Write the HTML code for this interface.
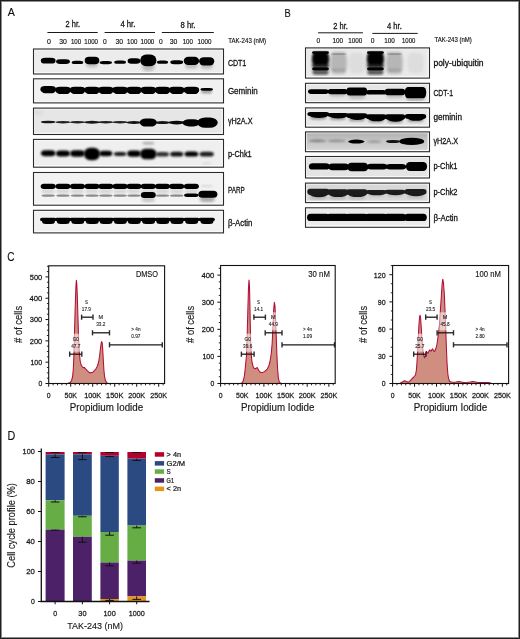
<!DOCTYPE html>
<html><head><meta charset="utf-8"><style>
html,body{margin:0;padding:0;background:#fff;}
body{width:520px;height:639px;overflow:hidden;}
svg{display:block;font-family:"Liberation Sans", sans-serif;will-change:transform;}
</style></head><body>
<svg width="520" height="639" viewBox="0 0 520 639">
<defs>
<clipPath id="c23"><rect x="34.00" y="49.50" width="189.00" height="24.00"/></clipPath>
<filter id="b0" x="-50%" y="-100%" width="200%" height="300%"><feGaussianBlur stdDeviation="0.65"/></filter>
<filter id="b1" x="-50%" y="-100%" width="200%" height="300%"><feGaussianBlur stdDeviation="1.6"/></filter>
<clipPath id="c47"><rect x="34.00" y="79.30" width="189.00" height="23.10"/></clipPath>
<filter id="b2" x="-50%" y="-100%" width="200%" height="300%"><feGaussianBlur stdDeviation="0.7"/></filter>
<filter id="b3" x="-50%" y="-100%" width="200%" height="300%"><feGaussianBlur stdDeviation="0.75"/></filter>
<filter id="b4" x="-50%" y="-100%" width="200%" height="300%"><feGaussianBlur stdDeviation="0.55"/></filter>
<filter id="b5" x="-50%" y="-100%" width="200%" height="300%"><feGaussianBlur stdDeviation="0.9"/></filter>
<clipPath id="c79"><rect x="34.00" y="108.60" width="189.00" height="25.40"/></clipPath>
<filter id="b6" x="-50%" y="-100%" width="200%" height="300%"><feGaussianBlur stdDeviation="2"/></filter>
<clipPath id="c100"><rect x="34.00" y="139.90" width="189.00" height="26.80"/></clipPath>
<filter id="b7" x="-50%" y="-100%" width="200%" height="300%"><feGaussianBlur stdDeviation="0.8"/></filter>
<filter id="b8" x="-50%" y="-100%" width="200%" height="300%"><feGaussianBlur stdDeviation="1.2"/></filter>
<clipPath id="c122"><rect x="34.00" y="173.00" width="189.00" height="31.70"/></clipPath>
<filter id="b9" x="-50%" y="-100%" width="200%" height="300%"><feGaussianBlur stdDeviation="0.6"/></filter>
<filter id="b10" x="-50%" y="-100%" width="200%" height="300%"><feGaussianBlur stdDeviation="1.4"/></filter>
<clipPath id="c167"><rect x="34.00" y="210.80" width="189.00" height="21.60"/></clipPath>
<clipPath id="c210"><rect x="306.00" y="48.40" width="123.00" height="29.20"/></clipPath>
<filter id="b11" x="-50%" y="-100%" width="200%" height="300%"><feGaussianBlur stdDeviation="0.5"/></filter>
<filter id="b12" x="-50%" y="-100%" width="200%" height="300%"><feGaussianBlur stdDeviation="1.5"/></filter>
<clipPath id="c238"><rect x="306.00" y="83.80" width="123.00" height="18.40"/></clipPath>
<clipPath id="c256"><rect x="306.00" y="108.40" width="123.00" height="18.30"/></clipPath>
<linearGradient id="ghb" x1="0" y1="0" x2="0" y2="1"><stop offset="0" stop-color="#b2b2b2"/><stop offset="0.45" stop-color="#c6c6c6"/><stop offset="1" stop-color="#d4d4d4"/></linearGradient>
<clipPath id="c282"><rect x="306.00" y="132.40" width="123.00" height="18.80"/></clipPath>
<clipPath id="c296"><rect x="306.00" y="157.00" width="123.00" height="20.50"/></clipPath>
<clipPath id="c310"><rect x="306.00" y="183.60" width="123.00" height="18.50"/></clipPath>
<clipPath id="c336"><rect x="306.00" y="208.30" width="123.00" height="18.50"/></clipPath>
</defs>
<rect x="0" y="0" width="520" height="639" fill="#fff"/>
<text x="7.70" y="16.30" font-size="11.4" fill="#111" textLength="7.10" lengthAdjust="spacingAndGlyphs" stroke="#111" stroke-width="0.14">A</text>
<text x="284.60" y="16.50" font-size="11.2" fill="#111" textLength="6.20" lengthAdjust="spacingAndGlyphs" stroke="#111" stroke-width="0.14">B</text>
<text x="65.60" y="27.00" font-size="8.8" fill="#111" textLength="14.40" lengthAdjust="spacingAndGlyphs" stroke="#111" stroke-width="0.26">2 hr.</text>
<text x="120.40" y="27.00" font-size="8.8" fill="#111" textLength="15.00" lengthAdjust="spacingAndGlyphs" stroke="#111" stroke-width="0.26">4 hr.</text>
<text x="180.60" y="28.30" font-size="8.6" fill="#111" textLength="14.90" lengthAdjust="spacingAndGlyphs" stroke="#111" stroke-width="0.26">8 hr.</text>
<line x1="47.40" y1="32.50" x2="97.70" y2="32.50" stroke="#1a1a1a" stroke-width="1.0"/>
<line x1="104.60" y1="32.50" x2="155.00" y2="32.50" stroke="#1a1a1a" stroke-width="1.0"/>
<line x1="161.90" y1="32.50" x2="213.80" y2="32.50" stroke="#1a1a1a" stroke-width="1.0"/>
<text x="46.90" y="43.80" font-size="7.2" fill="#111" textLength="3.90" lengthAdjust="spacingAndGlyphs" stroke="#111" stroke-width="0.16">0</text>
<text x="59.20" y="43.80" font-size="7.2" fill="#111" textLength="7.60" lengthAdjust="spacingAndGlyphs" stroke="#111" stroke-width="0.16">30</text>
<text x="70.90" y="43.80" font-size="7.2" fill="#111" textLength="10.20" lengthAdjust="spacingAndGlyphs" stroke="#111" stroke-width="0.16">100</text>
<text x="84.30" y="43.80" font-size="7.2" fill="#111" textLength="13.70" lengthAdjust="spacingAndGlyphs" stroke="#111" stroke-width="0.16">1000</text>
<text x="103.10" y="43.80" font-size="7.2" fill="#111" textLength="3.70" lengthAdjust="spacingAndGlyphs" stroke="#111" stroke-width="0.16">0</text>
<text x="115.50" y="43.80" font-size="7.2" fill="#111" textLength="7.60" lengthAdjust="spacingAndGlyphs" stroke="#111" stroke-width="0.16">30</text>
<text x="127.10" y="43.80" font-size="7.2" fill="#111" textLength="10.20" lengthAdjust="spacingAndGlyphs" stroke="#111" stroke-width="0.16">100</text>
<text x="140.50" y="43.80" font-size="7.2" fill="#111" textLength="13.80" lengthAdjust="spacingAndGlyphs" stroke="#111" stroke-width="0.16">1000</text>
<text x="159.00" y="43.80" font-size="7.2" fill="#111" textLength="3.70" lengthAdjust="spacingAndGlyphs" stroke="#111" stroke-width="0.16">0</text>
<text x="169.70" y="43.80" font-size="7.2" fill="#111" textLength="7.60" lengthAdjust="spacingAndGlyphs" stroke="#111" stroke-width="0.16">30</text>
<text x="182.70" y="43.80" font-size="7.2" fill="#111" textLength="10.30" lengthAdjust="spacingAndGlyphs" stroke="#111" stroke-width="0.16">100</text>
<text x="197.50" y="43.80" font-size="7.2" fill="#111" textLength="14.00" lengthAdjust="spacingAndGlyphs" stroke="#111" stroke-width="0.16">1000</text>
<text x="228.20" y="43.40" font-size="6.4" fill="#111" textLength="37.80" lengthAdjust="spacingAndGlyphs" stroke="#111" stroke-width="0.14">TAK-243 (nM)</text>
<rect x="33.50" y="49.00" width="190.00" height="25.00" fill="#fafafa"/>
<rect x="34.70" y="50.40" width="187.00" height="21.80" fill="#ececec"/>
<g clip-path="url(#c23)">
<rect x="40.80" y="57.85" width="14.80" height="5.70" rx="4.44" ry="2.85" fill="#000" opacity="1.00" filter="url(#b0)"/>
<rect x="56.00" y="59.15" width="14.00" height="4.90" rx="4.20" ry="2.45" fill="#000" opacity="1.00" filter="url(#b0)"/>
<rect x="71.70" y="60.75" width="11.60" height="3.30" rx="3.48" ry="1.65" fill="#000" opacity="1.00" filter="url(#b0)"/>
<rect x="86.14" y="60.76" width="11.73" height="6.48" rx="3.52" ry="3.24" fill="#000" opacity="0.20" filter="url(#b1)"/>
<rect x="84.70" y="56.65" width="14.60" height="7.50" rx="4.38" ry="3.75" fill="#000" opacity="1.00" filter="url(#b0)"/>
<rect x="99.65" y="61.05" width="12.30" height="3.10" rx="3.69" ry="1.55" fill="#000" opacity="1.00" filter="url(#b0)"/>
<rect x="114.20" y="60.55" width="11.80" height="3.30" rx="3.54" ry="1.65" fill="#000" opacity="1.00" filter="url(#b0)"/>
<rect x="127.60" y="58.35" width="12.80" height="5.30" rx="3.84" ry="2.65" fill="#000" opacity="1.00" filter="url(#b0)"/>
<rect x="141.76" y="60.98" width="13.09" height="10.35" rx="5.17" ry="5.17" fill="#000" opacity="0.20" filter="url(#b1)"/>
<rect x="140.20" y="54.50" width="16.20" height="11.80" rx="5.90" ry="5.90" fill="#000" opacity="1.00" filter="url(#b0)"/>
<rect x="156.90" y="60.55" width="11.20" height="3.30" rx="3.36" ry="1.65" fill="#000" opacity="1.00" filter="url(#b0)"/>
<rect x="170.30" y="60.25" width="12.80" height="3.90" rx="3.84" ry="1.95" fill="#000" opacity="1.00" filter="url(#b0)"/>
<rect x="185.19" y="61.30" width="12.41" height="7.20" rx="3.72" ry="3.60" fill="#000" opacity="0.20" filter="url(#b1)"/>
<rect x="183.70" y="56.75" width="15.40" height="8.30" rx="4.62" ry="4.15" fill="#000" opacity="1.00" filter="url(#b0)"/>
<rect x="200.58" y="61.70" width="12.24" height="7.20" rx="3.67" ry="3.60" fill="#000" opacity="0.20" filter="url(#b1)"/>
<rect x="199.10" y="57.15" width="15.20" height="8.30" rx="4.56" ry="4.15" fill="#000" opacity="1.00" filter="url(#b0)"/>
<rect x="33.50" y="72.20" width="190.00" height="1.80" fill="#fafafa" opacity="0.75"/>
<rect x="221.70" y="49.00" width="1.80" height="25.00" fill="#fafafa" opacity="0.6"/>
</g>
<rect x="33.50" y="49.00" width="190.00" height="25.00" fill="none" stroke="#2a2a2a" stroke-width="1.1"/>
<text x="227.90" y="65.80" font-size="8.2" fill="#111" textLength="18.40" lengthAdjust="spacingAndGlyphs" stroke="#111" stroke-width="0.26">CDT1</text>
<rect x="33.50" y="78.80" width="190.00" height="24.10" fill="#fafafa"/>
<rect x="34.70" y="80.20" width="187.00" height="20.90" fill="#f1f1f1"/>
<g clip-path="url(#c47)">
<rect x="40.40" y="86.00" width="15.60" height="6.40" rx="4.68" ry="3.20" fill="#000" opacity="1.00" filter="url(#b2)"/>
<rect x="42.10" y="88.70" width="12.80" height="4.60" rx="3.84" ry="2.30" fill="#000" opacity="1.00" filter="url(#b3)"/>
<rect x="55.20" y="86.80" width="15.60" height="6.40" rx="4.68" ry="3.20" fill="#000" opacity="1.00" filter="url(#b2)"/>
<rect x="56.90" y="89.50" width="12.80" height="4.60" rx="3.84" ry="2.30" fill="#000" opacity="1.00" filter="url(#b3)"/>
<rect x="69.70" y="86.80" width="15.60" height="6.40" rx="4.68" ry="3.20" fill="#000" opacity="1.00" filter="url(#b2)"/>
<rect x="71.40" y="89.50" width="12.80" height="4.60" rx="3.84" ry="2.30" fill="#000" opacity="1.00" filter="url(#b3)"/>
<rect x="84.20" y="86.80" width="15.60" height="6.40" rx="4.68" ry="3.20" fill="#000" opacity="1.00" filter="url(#b2)"/>
<rect x="85.90" y="89.50" width="12.80" height="4.60" rx="3.84" ry="2.30" fill="#000" opacity="1.00" filter="url(#b3)"/>
<rect x="98.00" y="86.80" width="15.60" height="6.40" rx="4.68" ry="3.20" fill="#000" opacity="1.00" filter="url(#b2)"/>
<rect x="99.70" y="89.50" width="12.80" height="4.60" rx="3.84" ry="2.30" fill="#000" opacity="1.00" filter="url(#b3)"/>
<rect x="112.30" y="86.80" width="15.60" height="6.40" rx="4.68" ry="3.20" fill="#000" opacity="1.00" filter="url(#b2)"/>
<rect x="114.00" y="89.50" width="12.80" height="4.60" rx="3.84" ry="2.30" fill="#000" opacity="1.00" filter="url(#b3)"/>
<rect x="126.20" y="86.80" width="15.60" height="6.40" rx="4.68" ry="3.20" fill="#000" opacity="1.00" filter="url(#b2)"/>
<rect x="127.90" y="89.50" width="12.80" height="4.60" rx="3.84" ry="2.30" fill="#000" opacity="1.00" filter="url(#b3)"/>
<rect x="140.50" y="86.80" width="15.60" height="6.40" rx="4.68" ry="3.20" fill="#000" opacity="1.00" filter="url(#b2)"/>
<rect x="142.20" y="89.50" width="12.80" height="4.60" rx="3.84" ry="2.30" fill="#000" opacity="1.00" filter="url(#b3)"/>
<rect x="154.70" y="86.80" width="15.60" height="6.40" rx="4.68" ry="3.20" fill="#000" opacity="1.00" filter="url(#b2)"/>
<rect x="156.40" y="89.50" width="12.80" height="4.60" rx="3.84" ry="2.30" fill="#000" opacity="1.00" filter="url(#b3)"/>
<rect x="168.90" y="86.80" width="15.60" height="6.40" rx="4.68" ry="3.20" fill="#000" opacity="1.00" filter="url(#b2)"/>
<rect x="170.60" y="89.50" width="12.80" height="4.60" rx="3.84" ry="2.30" fill="#000" opacity="1.00" filter="url(#b3)"/>
<rect x="183.60" y="86.80" width="15.60" height="6.40" rx="4.68" ry="3.20" fill="#000" opacity="1.00" filter="url(#b2)"/>
<rect x="185.30" y="89.50" width="12.80" height="4.60" rx="3.84" ry="2.30" fill="#000" opacity="1.00" filter="url(#b3)"/>
<rect x="200.45" y="88.00" width="12.50" height="2.80" rx="3.75" ry="1.40" fill="#000" opacity="1.00" filter="url(#b4)"/>
<rect x="201.20" y="90.00" width="11.00" height="3.60" rx="3.30" ry="1.80" fill="#000" opacity="0.35" filter="url(#b5)"/>
<rect x="33.50" y="101.10" width="190.00" height="1.80" fill="#fafafa" opacity="0.75"/>
<rect x="221.70" y="78.80" width="1.80" height="24.10" fill="#fafafa" opacity="0.6"/>
</g>
<rect x="33.50" y="78.80" width="190.00" height="24.10" fill="none" stroke="#2a2a2a" stroke-width="1.1"/>
<text x="227.90" y="94.00" font-size="8.2" fill="#111" textLength="29.80" lengthAdjust="spacingAndGlyphs" stroke="#111" stroke-width="0.26">Geminin</text>
<rect x="33.50" y="108.10" width="190.00" height="26.40" fill="#fafafa"/>
<rect x="34.70" y="109.50" width="187.00" height="23.20" fill="#e6e6e6"/>
<g clip-path="url(#c79)">
<rect x="33.00" y="109.50" width="10.00" height="5.00" rx="3.00" ry="2.50" fill="#000" opacity="0.05" filter="url(#b6)"/>
<ellipse cx="48.20" cy="122.00" rx="7.45" ry="1.35" fill="#000" opacity="0.90" filter="url(#b2)"/>
<ellipse cx="63.00" cy="122.20" rx="7.45" ry="1.25" fill="#000" opacity="0.85" filter="url(#b2)"/>
<ellipse cx="77.50" cy="122.20" rx="7.45" ry="1.25" fill="#000" opacity="0.85" filter="url(#b2)"/>
<ellipse cx="92.00" cy="122.20" rx="7.95" ry="1.45" fill="#000" opacity="0.90" filter="url(#b2)"/>
<ellipse cx="105.80" cy="122.20" rx="7.45" ry="1.30" fill="#000" opacity="0.85" filter="url(#b2)"/>
<ellipse cx="120.10" cy="122.20" rx="7.45" ry="1.30" fill="#000" opacity="0.85" filter="url(#b2)"/>
<ellipse cx="134.00" cy="122.50" rx="7.70" ry="1.50" fill="#000" opacity="0.92" filter="url(#b2)"/>
<rect x="139.80" y="118.40" width="17.00" height="8.20" rx="6.40" ry="4.10" fill="#000" opacity="1.00" filter="url(#b3)"/>
<ellipse cx="162.50" cy="122.60" rx="7.45" ry="1.50" fill="#000" opacity="0.90" filter="url(#b2)"/>
<ellipse cx="176.70" cy="122.60" rx="8.20" ry="1.80" fill="#000" opacity="0.95" filter="url(#b2)"/>
<rect x="182.65" y="119.20" width="17.50" height="7.20" rx="6.60" ry="3.60" fill="#000" opacity="1.00" filter="url(#b3)"/>
<rect x="197.25" y="117.40" width="20.50" height="10.40" rx="7.80" ry="5.20" fill="#000" opacity="1.00" filter="url(#b3)"/>
<rect x="33.50" y="132.70" width="190.00" height="1.80" fill="#fafafa" opacity="0.75"/>
<rect x="221.70" y="108.10" width="1.80" height="26.40" fill="#fafafa" opacity="0.6"/>
</g>
<rect x="33.50" y="108.10" width="190.00" height="26.40" fill="none" stroke="#2a2a2a" stroke-width="1.1"/>
<text x="227.90" y="123.70" font-size="8.2" fill="#111" textLength="24.60" lengthAdjust="spacingAndGlyphs" stroke="#111" stroke-width="0.26">γH2A.X</text>
<rect x="33.50" y="139.40" width="190.00" height="27.80" fill="#fafafa"/>
<rect x="34.70" y="140.80" width="187.00" height="24.60" fill="#efefef"/>
<g clip-path="url(#c100)">
<rect x="40.95" y="150.30" width="14.50" height="6.00" rx="4.35" ry="3.00" fill="#000" opacity="1.00" filter="url(#b7)"/>
<rect x="56.00" y="150.60" width="14.00" height="5.80" rx="4.20" ry="2.90" fill="#000" opacity="1.00" filter="url(#b7)"/>
<rect x="70.25" y="150.20" width="14.50" height="6.60" rx="4.35" ry="3.30" fill="#000" opacity="1.00" filter="url(#b7)"/>
<rect x="84.00" y="147.75" width="16.00" height="12.50" rx="6.25" ry="6.25" fill="#000" opacity="1.00" filter="url(#b7)"/>
<rect x="99.30" y="150.70" width="13.00" height="5.60" rx="3.90" ry="2.80" fill="#000" opacity="1.00" filter="url(#b7)"/>
<rect x="113.85" y="152.10" width="12.50" height="3.80" rx="3.75" ry="1.90" fill="#000" opacity="0.90" filter="url(#b7)"/>
<rect x="127.25" y="150.40" width="13.50" height="6.40" rx="4.05" ry="3.20" fill="#000" opacity="1.00" filter="url(#b7)"/>
<rect x="140.05" y="148.70" width="16.50" height="10.60" rx="5.30" ry="5.30" fill="#000" opacity="1.00" filter="url(#b7)"/>
<rect x="156.00" y="151.90" width="13.00" height="4.60" rx="3.90" ry="2.30" fill="#000" opacity="0.80" filter="url(#b7)"/>
<rect x="170.20" y="151.80" width="13.00" height="4.80" rx="3.90" ry="2.40" fill="#000" opacity="0.92" filter="url(#b7)"/>
<rect x="184.50" y="151.40" width="13.80" height="5.20" rx="4.14" ry="2.60" fill="#000" opacity="1.00" filter="url(#b7)"/>
<rect x="199.60" y="151.80" width="14.20" height="4.80" rx="4.26" ry="2.40" fill="#000" opacity="0.88" filter="url(#b7)"/>
<rect x="142.30" y="142.00" width="12.00" height="2.40" rx="3.60" ry="1.20" fill="#000" opacity="0.28" filter="url(#b7)"/>
<rect x="201.70" y="162.00" width="10.00" height="3.00" rx="3.00" ry="1.50" fill="#000" opacity="0.06" filter="url(#b8)"/>
<rect x="33.50" y="165.40" width="190.00" height="1.80" fill="#fafafa" opacity="0.75"/>
<rect x="221.70" y="139.40" width="1.80" height="27.80" fill="#fafafa" opacity="0.6"/>
</g>
<rect x="33.50" y="139.40" width="190.00" height="27.80" fill="none" stroke="#2a2a2a" stroke-width="1.1"/>
<text x="227.90" y="156.90" font-size="8.2" fill="#111" textLength="23.80" lengthAdjust="spacingAndGlyphs" stroke="#111" stroke-width="0.26">p-Chk1</text>
<rect x="33.50" y="172.50" width="190.00" height="32.70" fill="#fafafa"/>
<rect x="34.70" y="173.90" width="187.00" height="29.50" fill="#f2f2f2"/>
<g clip-path="url(#c122)">
<rect x="40.70" y="183.70" width="15.00" height="5.20" rx="3.20" ry="2.60" fill="#000" opacity="1.00" filter="url(#b9)"/>
<rect x="41.70" y="188.70" width="13.00" height="5.00" rx="3.90" ry="2.50" fill="#000" opacity="0.10" filter="url(#b8)"/>
<rect x="41.45" y="194.40" width="13.50" height="2.40" rx="4.05" ry="1.20" fill="#000" opacity="0.42" filter="url(#b2)"/>
<rect x="55.50" y="183.70" width="15.00" height="5.20" rx="3.20" ry="2.60" fill="#000" opacity="1.00" filter="url(#b9)"/>
<rect x="56.50" y="188.70" width="13.00" height="5.00" rx="3.90" ry="2.50" fill="#000" opacity="0.10" filter="url(#b8)"/>
<rect x="56.25" y="194.40" width="13.50" height="2.40" rx="4.05" ry="1.20" fill="#000" opacity="0.42" filter="url(#b2)"/>
<rect x="70.00" y="183.70" width="15.00" height="5.20" rx="3.20" ry="2.60" fill="#000" opacity="1.00" filter="url(#b9)"/>
<rect x="71.00" y="188.70" width="13.00" height="5.00" rx="3.90" ry="2.50" fill="#000" opacity="0.10" filter="url(#b8)"/>
<rect x="70.75" y="194.40" width="13.50" height="2.40" rx="4.05" ry="1.20" fill="#000" opacity="0.42" filter="url(#b2)"/>
<rect x="84.50" y="183.70" width="15.00" height="5.20" rx="3.20" ry="2.60" fill="#000" opacity="1.00" filter="url(#b9)"/>
<rect x="85.50" y="188.70" width="13.00" height="5.00" rx="3.90" ry="2.50" fill="#000" opacity="0.10" filter="url(#b8)"/>
<rect x="85.25" y="194.40" width="13.50" height="2.40" rx="4.05" ry="1.20" fill="#000" opacity="0.42" filter="url(#b2)"/>
<rect x="98.30" y="183.70" width="15.00" height="5.20" rx="3.20" ry="2.60" fill="#000" opacity="1.00" filter="url(#b9)"/>
<rect x="99.30" y="188.70" width="13.00" height="5.00" rx="3.90" ry="2.50" fill="#000" opacity="0.10" filter="url(#b8)"/>
<rect x="99.05" y="194.40" width="13.50" height="2.40" rx="4.05" ry="1.20" fill="#000" opacity="0.42" filter="url(#b2)"/>
<rect x="112.60" y="183.70" width="15.00" height="5.20" rx="3.20" ry="2.60" fill="#000" opacity="1.00" filter="url(#b9)"/>
<rect x="113.60" y="188.70" width="13.00" height="5.00" rx="3.90" ry="2.50" fill="#000" opacity="0.10" filter="url(#b8)"/>
<rect x="113.35" y="194.40" width="13.50" height="2.40" rx="4.05" ry="1.20" fill="#000" opacity="0.42" filter="url(#b2)"/>
<rect x="126.50" y="183.70" width="15.00" height="5.20" rx="3.20" ry="2.60" fill="#000" opacity="1.00" filter="url(#b9)"/>
<rect x="127.50" y="188.70" width="13.00" height="5.00" rx="3.90" ry="2.50" fill="#000" opacity="0.10" filter="url(#b8)"/>
<rect x="127.25" y="194.40" width="13.50" height="2.40" rx="4.05" ry="1.20" fill="#000" opacity="0.42" filter="url(#b2)"/>
<rect x="140.80" y="183.70" width="15.00" height="5.20" rx="3.20" ry="2.60" fill="#000" opacity="1.00" filter="url(#b9)"/>
<rect x="141.80" y="188.70" width="13.00" height="5.00" rx="3.90" ry="2.50" fill="#000" opacity="0.10" filter="url(#b8)"/>
<rect x="140.80" y="192.00" width="15.00" height="6.00" rx="3.50" ry="3.00" fill="#000" opacity="1.00" filter="url(#b9)"/>
<rect x="141.80" y="197.00" width="13.00" height="5.00" rx="3.90" ry="2.50" fill="#000" opacity="0.18" filter="url(#b10)"/>
<rect x="155.00" y="183.70" width="15.00" height="5.20" rx="3.20" ry="2.60" fill="#000" opacity="1.00" filter="url(#b9)"/>
<rect x="156.00" y="188.70" width="13.00" height="5.00" rx="3.90" ry="2.50" fill="#000" opacity="0.10" filter="url(#b8)"/>
<rect x="155.75" y="194.40" width="13.50" height="2.40" rx="4.05" ry="1.20" fill="#000" opacity="0.42" filter="url(#b2)"/>
<rect x="169.20" y="183.70" width="15.00" height="5.20" rx="3.20" ry="2.60" fill="#000" opacity="1.00" filter="url(#b9)"/>
<rect x="170.20" y="188.70" width="13.00" height="5.00" rx="3.90" ry="2.50" fill="#000" opacity="0.10" filter="url(#b8)"/>
<rect x="169.95" y="194.40" width="13.50" height="2.40" rx="4.05" ry="1.20" fill="#000" opacity="0.42" filter="url(#b2)"/>
<rect x="183.90" y="183.70" width="15.00" height="5.20" rx="3.20" ry="2.60" fill="#000" opacity="1.00" filter="url(#b9)"/>
<rect x="184.90" y="188.70" width="13.00" height="5.00" rx="3.90" ry="2.50" fill="#000" opacity="0.10" filter="url(#b8)"/>
<rect x="184.15" y="193.50" width="14.50" height="3.40" rx="3.00" ry="1.70" fill="#000" opacity="1.00" filter="url(#b4)"/>
<rect x="200.70" y="185.00" width="12.00" height="2.00" rx="3.60" ry="1.00" fill="#000" opacity="0.10" filter="url(#b7)"/>
<rect x="198.40" y="190.70" width="19.00" height="7.00" rx="4.00" ry="3.50" fill="#000" opacity="1.00" filter="url(#b9)"/>
<rect x="199.70" y="196.00" width="15.00" height="6.00" rx="4.50" ry="3.00" fill="#000" opacity="0.30" filter="url(#b10)"/>
<rect x="33.50" y="203.40" width="190.00" height="1.80" fill="#fafafa" opacity="0.75"/>
<rect x="221.70" y="172.50" width="1.80" height="32.70" fill="#fafafa" opacity="0.6"/>
</g>
<rect x="33.50" y="172.50" width="190.00" height="32.70" fill="none" stroke="#2a2a2a" stroke-width="1.1"/>
<text x="227.90" y="192.90" font-size="8.2" fill="#111" textLength="16.80" lengthAdjust="spacingAndGlyphs" stroke="#111" stroke-width="0.26">PARP</text>
<rect x="33.50" y="210.30" width="190.00" height="22.60" fill="#fafafa"/>
<rect x="34.70" y="211.70" width="187.00" height="19.40" fill="#f1f1f1"/>
<g clip-path="url(#c167)">
<rect x="40.00" y="217.70" width="16.40" height="3.60" rx="2.00" ry="1.80" fill="#000" opacity="1.00" filter="url(#b9)"/>
<rect x="42.10" y="218.90" width="12.80" height="5.00" rx="3.84" ry="2.50" fill="#000" opacity="1.00" filter="url(#b2)"/>
<rect x="54.80" y="217.70" width="16.40" height="3.60" rx="2.00" ry="1.80" fill="#000" opacity="1.00" filter="url(#b9)"/>
<rect x="56.90" y="218.90" width="12.80" height="5.00" rx="3.84" ry="2.50" fill="#000" opacity="1.00" filter="url(#b2)"/>
<rect x="69.30" y="217.70" width="16.40" height="3.60" rx="2.00" ry="1.80" fill="#000" opacity="1.00" filter="url(#b9)"/>
<rect x="71.40" y="218.90" width="12.80" height="5.00" rx="3.84" ry="2.50" fill="#000" opacity="1.00" filter="url(#b2)"/>
<rect x="83.80" y="217.70" width="16.40" height="3.60" rx="2.00" ry="1.80" fill="#000" opacity="1.00" filter="url(#b9)"/>
<rect x="85.90" y="218.90" width="12.80" height="5.00" rx="3.84" ry="2.50" fill="#000" opacity="1.00" filter="url(#b2)"/>
<rect x="97.60" y="217.70" width="16.40" height="3.60" rx="2.00" ry="1.80" fill="#000" opacity="1.00" filter="url(#b9)"/>
<rect x="99.70" y="218.90" width="12.80" height="5.00" rx="3.84" ry="2.50" fill="#000" opacity="1.00" filter="url(#b2)"/>
<rect x="111.90" y="217.70" width="16.40" height="3.60" rx="2.00" ry="1.80" fill="#000" opacity="1.00" filter="url(#b9)"/>
<rect x="114.00" y="218.90" width="12.80" height="5.00" rx="3.84" ry="2.50" fill="#000" opacity="1.00" filter="url(#b2)"/>
<rect x="125.80" y="217.70" width="16.40" height="3.60" rx="2.00" ry="1.80" fill="#000" opacity="1.00" filter="url(#b9)"/>
<rect x="127.90" y="218.90" width="12.80" height="5.00" rx="3.84" ry="2.50" fill="#000" opacity="1.00" filter="url(#b2)"/>
<rect x="140.10" y="217.70" width="16.40" height="3.60" rx="2.00" ry="1.80" fill="#000" opacity="1.00" filter="url(#b9)"/>
<rect x="142.20" y="218.90" width="12.80" height="5.00" rx="3.84" ry="2.50" fill="#000" opacity="1.00" filter="url(#b2)"/>
<rect x="154.30" y="217.70" width="16.40" height="3.60" rx="2.00" ry="1.80" fill="#000" opacity="1.00" filter="url(#b9)"/>
<rect x="156.40" y="218.90" width="12.80" height="5.00" rx="3.84" ry="2.50" fill="#000" opacity="1.00" filter="url(#b2)"/>
<rect x="168.50" y="217.70" width="16.40" height="3.60" rx="2.00" ry="1.80" fill="#000" opacity="1.00" filter="url(#b9)"/>
<rect x="170.60" y="218.90" width="12.80" height="5.00" rx="3.84" ry="2.50" fill="#000" opacity="1.00" filter="url(#b2)"/>
<rect x="183.20" y="217.70" width="16.40" height="3.60" rx="2.00" ry="1.80" fill="#000" opacity="1.00" filter="url(#b9)"/>
<rect x="185.30" y="218.90" width="12.80" height="5.00" rx="3.84" ry="2.50" fill="#000" opacity="1.00" filter="url(#b2)"/>
<rect x="198.50" y="217.70" width="16.40" height="3.60" rx="2.00" ry="1.80" fill="#000" opacity="1.00" filter="url(#b9)"/>
<rect x="200.60" y="218.90" width="12.80" height="5.00" rx="3.84" ry="2.50" fill="#000" opacity="1.00" filter="url(#b2)"/>
<rect x="33.50" y="231.10" width="190.00" height="1.80" fill="#fafafa" opacity="0.75"/>
<rect x="221.70" y="210.30" width="1.80" height="22.60" fill="#fafafa" opacity="0.6"/>
</g>
<rect x="33.50" y="210.30" width="190.00" height="22.60" fill="none" stroke="#2a2a2a" stroke-width="1.1"/>
<text x="227.90" y="225.50" font-size="8.2" fill="#111" textLength="24.60" lengthAdjust="spacingAndGlyphs" stroke="#111" stroke-width="0.26">β-Actin</text>
<text x="333.30" y="29.00" font-size="8.8" fill="#111" textLength="14.60" lengthAdjust="spacingAndGlyphs" stroke="#111" stroke-width="0.26">2 hr.</text>
<text x="387.00" y="29.30" font-size="8.8" fill="#111" textLength="14.80" lengthAdjust="spacingAndGlyphs" stroke="#111" stroke-width="0.26">4 hr.</text>
<line x1="318.00" y1="32.80" x2="363.00" y2="32.80" stroke="#1a1a1a" stroke-width="1.0"/>
<line x1="372.30" y1="33.40" x2="417.70" y2="33.40" stroke="#1a1a1a" stroke-width="1.0"/>
<text x="316.60" y="42.80" font-size="7.2" fill="#111" textLength="3.70" lengthAdjust="spacingAndGlyphs" stroke="#111" stroke-width="0.16">0</text>
<text x="332.50" y="42.80" font-size="7.2" fill="#111" textLength="10.60" lengthAdjust="spacingAndGlyphs" stroke="#111" stroke-width="0.16">100</text>
<text x="348.30" y="42.80" font-size="7.2" fill="#111" textLength="14.00" lengthAdjust="spacingAndGlyphs" stroke="#111" stroke-width="0.16">1000</text>
<text x="370.70" y="42.80" font-size="7.2" fill="#111" textLength="3.70" lengthAdjust="spacingAndGlyphs" stroke="#111" stroke-width="0.16">0</text>
<text x="384.30" y="42.80" font-size="7.2" fill="#111" textLength="10.60" lengthAdjust="spacingAndGlyphs" stroke="#111" stroke-width="0.16">100</text>
<text x="402.00" y="42.80" font-size="7.2" fill="#111" textLength="13.30" lengthAdjust="spacingAndGlyphs" stroke="#111" stroke-width="0.16">1000</text>
<text x="434.50" y="42.40" font-size="6.4" fill="#111" textLength="37.30" lengthAdjust="spacingAndGlyphs" stroke="#111" stroke-width="0.14">TAK-243 (nM)</text>
<rect x="305.50" y="47.90" width="124.00" height="30.20" fill="#fafafa"/>
<rect x="306.70" y="49.30" width="121.00" height="27.00" fill="#e9e9e9"/>
<g clip-path="url(#c210)">
<rect x="311.75" y="53.50" width="17.50" height="21.00" rx="3.00" ry="10.50" fill="#000" opacity="0.35" filter="url(#b1)"/>
<rect x="312.20" y="52.30" width="16.60" height="12.60" rx="2.50" ry="6.30" fill="#000" opacity="1.00" filter="url(#b7)"/>
<rect x="312.50" y="63.85" width="16.00" height="3.50" rx="2.00" ry="1.75" fill="#000" opacity="0.80" filter="url(#b7)"/>
<rect x="312.10" y="51.30" width="16.80" height="2.60" rx="1.50" ry="1.30" fill="#000" opacity="1.00" filter="url(#b11)"/>
<rect x="312.10" y="67.20" width="16.80" height="3.20" rx="2.00" ry="1.60" fill="#000" opacity="1.00" filter="url(#b4)"/>
<rect x="312.50" y="70.60" width="16.00" height="4.00" rx="2.00" ry="2.00" fill="#000" opacity="0.45" filter="url(#b5)"/>
<rect x="366.65" y="53.50" width="17.50" height="21.00" rx="3.00" ry="10.50" fill="#000" opacity="0.35" filter="url(#b1)"/>
<rect x="367.10" y="52.30" width="16.60" height="12.60" rx="2.50" ry="6.30" fill="#000" opacity="1.00" filter="url(#b7)"/>
<rect x="367.40" y="63.85" width="16.00" height="3.50" rx="2.00" ry="1.75" fill="#000" opacity="0.80" filter="url(#b7)"/>
<rect x="367.00" y="51.30" width="16.80" height="2.60" rx="1.50" ry="1.30" fill="#000" opacity="1.00" filter="url(#b11)"/>
<rect x="367.00" y="67.20" width="16.80" height="3.20" rx="2.00" ry="1.60" fill="#000" opacity="1.00" filter="url(#b4)"/>
<rect x="367.40" y="70.60" width="16.00" height="4.00" rx="2.00" ry="2.00" fill="#000" opacity="0.45" filter="url(#b5)"/>
<rect x="330.45" y="52.00" width="16.50" height="22.00" rx="3.00" ry="11.00" fill="#000" opacity="0.22" filter="url(#b12)"/>
<rect x="330.95" y="53.00" width="15.50" height="2.00" rx="4.65" ry="1.00" fill="#000" opacity="0.18" filter="url(#b2)"/>
<rect x="330.95" y="68.75" width="15.50" height="2.50" rx="4.65" ry="1.25" fill="#000" opacity="0.12" filter="url(#b7)"/>
<rect x="386.25" y="52.00" width="16.50" height="22.00" rx="3.00" ry="11.00" fill="#000" opacity="0.22" filter="url(#b12)"/>
<rect x="386.75" y="53.00" width="15.50" height="2.00" rx="4.65" ry="1.00" fill="#000" opacity="0.18" filter="url(#b2)"/>
<rect x="386.75" y="68.75" width="15.50" height="2.50" rx="4.65" ry="1.25" fill="#000" opacity="0.12" filter="url(#b7)"/>
<rect x="348.80" y="53.00" width="16.00" height="20.00" rx="3.00" ry="10.00" fill="#000" opacity="0.05" filter="url(#b12)"/>
<rect x="407.50" y="53.00" width="16.00" height="20.00" rx="3.00" ry="10.00" fill="#000" opacity="0.05" filter="url(#b12)"/>
<rect x="305.50" y="76.30" width="124.00" height="1.80" fill="#fafafa" opacity="0.75"/>
<rect x="427.70" y="47.90" width="1.80" height="30.20" fill="#fafafa" opacity="0.6"/>
</g>
<rect x="305.50" y="47.90" width="124.00" height="30.20" fill="none" stroke="#2a2a2a" stroke-width="1.1"/>
<text x="433.40" y="65.80" font-size="8.2" fill="#111" textLength="50.20" lengthAdjust="spacingAndGlyphs" stroke="#111" stroke-width="0.26">poly-ubiquitin</text>
<rect x="305.50" y="83.30" width="124.00" height="19.40" fill="#fafafa"/>
<rect x="306.70" y="84.70" width="121.00" height="16.20" fill="#e6e6e6"/>
<g clip-path="url(#c238)">
<rect x="308.05" y="89.20" width="20.50" height="4.80" rx="3.00" ry="2.40" fill="#000" opacity="1.00" filter="url(#b3)"/>
<rect x="329.20" y="92.14" width="17.00" height="4.32" rx="5.10" ry="2.16" fill="#000" opacity="0.20" filter="url(#b10)"/>
<rect x="327.70" y="88.90" width="20.00" height="5.40" rx="3.00" ry="2.70" fill="#000" opacity="1.00" filter="url(#b3)"/>
<rect x="347.96" y="92.30" width="17.68" height="6.40" rx="5.30" ry="3.20" fill="#000" opacity="0.20" filter="url(#b10)"/>
<rect x="346.40" y="87.50" width="20.80" height="8.00" rx="3.00" ry="4.00" fill="#000" opacity="1.00" filter="url(#b3)"/>
<rect x="366.20" y="89.90" width="20.00" height="4.60" rx="3.00" ry="2.30" fill="#000" opacity="1.00" filter="url(#b3)"/>
<rect x="386.33" y="92.64" width="17.34" height="5.12" rx="5.20" ry="2.56" fill="#000" opacity="0.20" filter="url(#b10)"/>
<rect x="384.80" y="88.80" width="20.40" height="6.40" rx="3.00" ry="3.20" fill="#000" opacity="1.00" filter="url(#b3)"/>
<rect x="406.36" y="93.74" width="18.27" height="9.12" rx="5.48" ry="4.56" fill="#000" opacity="0.20" filter="url(#b10)"/>
<rect x="404.75" y="86.90" width="21.50" height="11.40" rx="3.00" ry="5.70" fill="#000" opacity="1.00" filter="url(#b3)"/>
<rect x="305.50" y="100.90" width="124.00" height="1.80" fill="#fafafa" opacity="0.75"/>
<rect x="427.70" y="83.30" width="1.80" height="19.40" fill="#fafafa" opacity="0.6"/>
</g>
<rect x="305.50" y="83.30" width="124.00" height="19.40" fill="none" stroke="#2a2a2a" stroke-width="1.1"/>
<text x="433.40" y="96.30" font-size="8.2" fill="#111" textLength="19.60" lengthAdjust="spacingAndGlyphs" stroke="#111" stroke-width="0.26">CDT-1</text>
<rect x="305.50" y="107.90" width="124.00" height="19.30" fill="#fafafa"/>
<rect x="306.70" y="109.30" width="121.00" height="16.10" fill="#e8e8e8"/>
<g clip-path="url(#c256)">
<rect x="307.40" y="111.90" width="21.80" height="4.32" rx="3.00" ry="2.16" fill="#000" opacity="1.00" filter="url(#b0)"/>
<ellipse cx="318.80" cy="115.41" rx="8.82" ry="2.70" fill="#000" opacity="1.00" filter="url(#b2)"/>
<rect x="309.90" y="115.44" width="16.80" height="4.32" rx="5.04" ry="2.16" fill="#000" opacity="0.30" filter="url(#b8)"/>
<rect x="327.05" y="112.90" width="21.30" height="3.84" rx="3.00" ry="1.92" fill="#000" opacity="1.00" filter="url(#b0)"/>
<ellipse cx="338.20" cy="116.02" rx="8.61" ry="2.40" fill="#000" opacity="1.00" filter="url(#b2)"/>
<rect x="329.50" y="116.38" width="16.40" height="3.84" rx="4.92" ry="1.92" fill="#000" opacity="0.30" filter="url(#b8)"/>
<rect x="346.15" y="113.30" width="21.30" height="4.64" rx="3.00" ry="2.32" fill="#000" opacity="1.00" filter="url(#b0)"/>
<ellipse cx="357.30" cy="117.07" rx="8.61" ry="2.90" fill="#000" opacity="1.00" filter="url(#b2)"/>
<rect x="348.60" y="116.88" width="16.40" height="4.64" rx="4.92" ry="2.32" fill="#000" opacity="0.30" filter="url(#b8)"/>
<rect x="365.80" y="114.20" width="20.80" height="4.96" rx="3.00" ry="2.48" fill="#000" opacity="1.00" filter="url(#b0)"/>
<ellipse cx="376.70" cy="118.23" rx="8.40" ry="3.10" fill="#000" opacity="1.00" filter="url(#b2)"/>
<rect x="368.20" y="117.82" width="16.00" height="4.96" rx="4.80" ry="2.48" fill="#000" opacity="0.30" filter="url(#b8)"/>
<rect x="384.60" y="114.20" width="20.80" height="5.28" rx="3.00" ry="2.64" fill="#000" opacity="1.00" filter="url(#b0)"/>
<ellipse cx="395.50" cy="118.49" rx="8.40" ry="3.30" fill="#000" opacity="1.00" filter="url(#b2)"/>
<rect x="387.00" y="117.86" width="16.00" height="5.28" rx="4.80" ry="2.64" fill="#000" opacity="0.30" filter="url(#b8)"/>
<rect x="404.85" y="114.10" width="21.30" height="4.64" rx="3.00" ry="2.32" fill="#000" opacity="1.00" filter="url(#b0)"/>
<ellipse cx="416.00" cy="117.87" rx="8.61" ry="2.90" fill="#000" opacity="1.00" filter="url(#b2)"/>
<rect x="407.30" y="117.68" width="16.40" height="4.64" rx="4.92" ry="2.32" fill="#000" opacity="0.30" filter="url(#b8)"/>
<rect x="305.50" y="125.40" width="124.00" height="1.80" fill="#fafafa" opacity="0.75"/>
<rect x="427.70" y="107.90" width="1.80" height="19.30" fill="#fafafa" opacity="0.6"/>
</g>
<rect x="305.50" y="107.90" width="124.00" height="19.30" fill="none" stroke="#2a2a2a" stroke-width="1.1"/>
<text x="433.40" y="119.80" font-size="8.2" fill="#111" textLength="28.60" lengthAdjust="spacingAndGlyphs" stroke="#111" stroke-width="0.26">geminin</text>
<rect x="305.50" y="131.90" width="124.00" height="19.80" fill="#fafafa"/>
<rect x="306.70" y="133.30" width="121.00" height="16.60" fill="url(#ghb)"/>
<g clip-path="url(#c282)">
<ellipse cx="317.30" cy="140.90" rx="9.00" ry="1.30" fill="#000" opacity="0.35" filter="url(#b7)"/>
<ellipse cx="336.70" cy="140.90" rx="9.00" ry="1.20" fill="#000" opacity="0.30" filter="url(#b7)"/>
<ellipse cx="356.30" cy="141.60" rx="8.20" ry="2.00" fill="#000" opacity="1.00" filter="url(#b4)"/>
<ellipse cx="374.20" cy="141.60" rx="7.00" ry="1.10" fill="#000" opacity="0.25" filter="url(#b7)"/>
<ellipse cx="393.00" cy="141.50" rx="7.00" ry="1.60" fill="#000" opacity="0.90" filter="url(#b9)"/>
<ellipse cx="411.70" cy="141.40" rx="12.50" ry="3.60" fill="#000" opacity="1.00" filter="url(#b9)"/>
<rect x="305.50" y="149.90" width="124.00" height="1.80" fill="#fafafa" opacity="0.75"/>
<rect x="427.70" y="131.90" width="1.80" height="19.80" fill="#fafafa" opacity="0.6"/>
</g>
<rect x="305.50" y="131.90" width="124.00" height="19.80" fill="none" stroke="#2a2a2a" stroke-width="1.1"/>
<text x="433.40" y="144.10" font-size="8.2" fill="#111" textLength="24.60" lengthAdjust="spacingAndGlyphs" stroke="#111" stroke-width="0.26">γH2A.X</text>
<rect x="305.50" y="156.50" width="124.00" height="21.50" fill="#fafafa"/>
<rect x="306.70" y="157.90" width="121.00" height="18.30" fill="#e4e4e4"/>
<g clip-path="url(#c296)">
<rect x="308.90" y="163.20" width="20.80" height="6.40" rx="4.00" ry="3.20" fill="#000" opacity="1.00" filter="url(#b2)"/>
<rect x="328.45" y="163.40" width="20.50" height="6.80" rx="4.00" ry="3.40" fill="#000" opacity="1.00" filter="url(#b2)"/>
<rect x="347.30" y="162.70" width="21.00" height="8.60" rx="4.00" ry="4.30" fill="#000" opacity="1.00" filter="url(#b2)"/>
<rect x="366.95" y="163.70" width="20.50" height="5.80" rx="4.00" ry="2.90" fill="#000" opacity="1.00" filter="url(#b2)"/>
<rect x="385.90" y="164.00" width="20.20" height="5.40" rx="4.00" ry="2.70" fill="#000" opacity="1.00" filter="url(#b2)"/>
<rect x="405.90" y="162.00" width="21.20" height="9.00" rx="4.00" ry="4.50" fill="#000" opacity="1.00" filter="url(#b2)"/>
<rect x="305.50" y="176.20" width="124.00" height="1.80" fill="#fafafa" opacity="0.75"/>
<rect x="427.70" y="156.50" width="1.80" height="21.50" fill="#fafafa" opacity="0.6"/>
</g>
<rect x="305.50" y="156.50" width="124.00" height="21.50" fill="none" stroke="#2a2a2a" stroke-width="1.1"/>
<text x="433.40" y="169.10" font-size="8.2" fill="#111" textLength="24.00" lengthAdjust="spacingAndGlyphs" stroke="#111" stroke-width="0.26">p-Chk1</text>
<rect x="305.50" y="183.10" width="124.00" height="19.50" fill="#fafafa"/>
<rect x="306.70" y="184.50" width="121.00" height="16.30" fill="#d8d8d8"/>
<g clip-path="url(#c310)">
<rect x="307.25" y="188.70" width="22.10" height="6.23" rx="3.00" ry="3.12" fill="#1e1e1e" opacity="1.00" filter="url(#b9)"/>
<ellipse cx="318.80" cy="193.78" rx="9.46" ry="3.44" fill="#1e1e1e" opacity="1.00" filter="url(#b2)"/>
<rect x="309.70" y="194.85" width="17.20" height="4.92" rx="5.16" ry="2.46" fill="#000" opacity="0.12" filter="url(#b8)"/>
<rect x="326.90" y="189.20" width="21.60" height="5.78" rx="3.00" ry="2.89" fill="#1e1e1e" opacity="1.00" filter="url(#b9)"/>
<ellipse cx="338.20" cy="193.91" rx="9.24" ry="3.19" fill="#1e1e1e" opacity="1.00" filter="url(#b2)"/>
<rect x="329.30" y="194.90" width="16.80" height="4.56" rx="5.04" ry="2.28" fill="#000" opacity="0.12" filter="url(#b8)"/>
<rect x="346.00" y="189.20" width="21.60" height="5.78" rx="3.00" ry="2.89" fill="#1e1e1e" opacity="1.00" filter="url(#b9)"/>
<ellipse cx="357.30" cy="193.91" rx="9.24" ry="3.19" fill="#1e1e1e" opacity="1.00" filter="url(#b2)"/>
<rect x="348.40" y="194.90" width="16.80" height="4.56" rx="5.04" ry="2.28" fill="#000" opacity="0.12" filter="url(#b8)"/>
<rect x="365.65" y="190.10" width="21.10" height="3.80" rx="3.00" ry="1.90" fill="#1e1e1e" opacity="1.00" filter="url(#b9)"/>
<ellipse cx="376.70" cy="193.20" rx="9.02" ry="2.10" fill="#1e1e1e" opacity="1.00" filter="url(#b2)"/>
<rect x="368.00" y="193.85" width="16.40" height="3.00" rx="4.92" ry="1.50" fill="#000" opacity="0.12" filter="url(#b8)"/>
<rect x="384.45" y="189.80" width="21.10" height="3.95" rx="3.00" ry="1.98" fill="#1e1e1e" opacity="1.00" filter="url(#b9)"/>
<ellipse cx="395.50" cy="193.02" rx="9.02" ry="2.18" fill="#1e1e1e" opacity="1.00" filter="url(#b2)"/>
<rect x="386.80" y="193.70" width="16.40" height="3.12" rx="4.92" ry="1.56" fill="#000" opacity="0.12" filter="url(#b8)"/>
<rect x="404.45" y="189.10" width="22.10" height="5.17" rx="3.00" ry="2.58" fill="#1e1e1e" opacity="1.00" filter="url(#b9)"/>
<ellipse cx="416.00" cy="193.32" rx="9.46" ry="2.86" fill="#1e1e1e" opacity="1.00" filter="url(#b2)"/>
<rect x="406.90" y="194.20" width="17.20" height="4.08" rx="5.16" ry="2.04" fill="#000" opacity="0.12" filter="url(#b8)"/>
<rect x="305.50" y="200.80" width="124.00" height="1.80" fill="#fafafa" opacity="0.75"/>
<rect x="427.70" y="183.10" width="1.80" height="19.50" fill="#fafafa" opacity="0.6"/>
</g>
<rect x="305.50" y="183.10" width="124.00" height="19.50" fill="none" stroke="#2a2a2a" stroke-width="1.1"/>
<text x="433.40" y="195.00" font-size="8.2" fill="#111" textLength="24.00" lengthAdjust="spacingAndGlyphs" stroke="#111" stroke-width="0.26">p-Chk2</text>
<rect x="305.50" y="207.80" width="124.00" height="19.50" fill="#fafafa"/>
<rect x="306.70" y="209.20" width="121.00" height="16.30" fill="#ebebeb"/>
<g clip-path="url(#c336)">
<rect x="307.00" y="213.70" width="22.60" height="7.40" rx="3.50" ry="3.70" fill="#000" opacity="1.00" filter="url(#b2)"/>
<rect x="326.40" y="213.70" width="22.60" height="7.40" rx="3.50" ry="3.70" fill="#000" opacity="1.00" filter="url(#b2)"/>
<rect x="345.50" y="213.70" width="22.60" height="7.40" rx="3.50" ry="3.70" fill="#000" opacity="1.00" filter="url(#b2)"/>
<rect x="364.90" y="213.70" width="22.60" height="7.40" rx="3.50" ry="3.70" fill="#000" opacity="1.00" filter="url(#b2)"/>
<rect x="383.70" y="213.70" width="22.60" height="7.40" rx="3.50" ry="3.70" fill="#000" opacity="1.00" filter="url(#b2)"/>
<rect x="404.20" y="213.70" width="22.60" height="7.40" rx="3.50" ry="3.70" fill="#000" opacity="1.00" filter="url(#b2)"/>
<rect x="305.50" y="225.50" width="124.00" height="1.80" fill="#fafafa" opacity="0.75"/>
<rect x="427.70" y="207.80" width="1.80" height="19.50" fill="#fafafa" opacity="0.6"/>
</g>
<rect x="305.50" y="207.80" width="124.00" height="19.50" fill="none" stroke="#2a2a2a" stroke-width="1.1"/>
<text x="433.40" y="220.80" font-size="8.2" fill="#111" textLength="24.60" lengthAdjust="spacingAndGlyphs" stroke="#111" stroke-width="0.26">β-Actin</text>
<text x="7.20" y="260.60" font-size="12.6" fill="#111" textLength="7.30" lengthAdjust="spacingAndGlyphs" stroke="#111" stroke-width="0.14">C</text>
<path d="M68.00,383.50 L68.00,383.30 L70.20,382.60 L71.60,380.50 L72.60,376.50 L73.30,369.00 L73.80,358.00 L74.30,340.00 L74.90,318.00 L75.50,298.00 L76.00,285.00 L76.40,280.20 L76.80,284.00 L77.30,296.00 L77.90,316.00 L78.60,338.00 L79.30,352.00 L80.10,360.50 L81.00,364.50 L82.20,366.80 L83.40,367.60 L84.60,367.60 L85.80,369.20 L87.20,370.60 L88.60,371.80 L90.10,373.00 L91.50,372.40 L92.90,372.20 L94.40,370.60 L95.80,369.00 L97.20,366.50 L98.50,362.50 L99.60,356.00 L100.50,348.00 L101.20,343.00 L101.70,341.60 L102.20,343.00 L102.70,349.00 L103.30,360.00 L103.90,370.00 L104.60,376.80 L105.50,380.60 L106.60,382.60 L108.00,383.30 L108.00,383.50 Z" fill="#cf8e80" stroke="none"/>
<path d="M68.00,383.30 L70.20,382.60 L71.60,380.50 L72.60,376.50 L73.30,369.00 L73.80,358.00 L74.30,340.00 L74.90,318.00 L75.50,298.00 L76.00,285.00 L76.40,280.20 L76.80,284.00 L77.30,296.00 L77.90,316.00 L78.60,338.00 L79.30,352.00 L80.10,360.50 L81.00,364.50 L82.20,366.80 L83.40,367.60 L84.60,367.60 L85.80,369.20 L87.20,370.60 L88.60,371.80 L90.10,373.00 L91.50,372.40 L92.90,372.20 L94.40,370.60 L95.80,369.00 L97.20,366.50 L98.50,362.50 L99.60,356.00 L100.50,348.00 L101.20,343.00 L101.70,341.60 L102.20,343.00 L102.70,349.00 L103.30,360.00 L103.90,370.00 L104.60,376.80 L105.50,380.60 L106.60,382.60 L108.00,383.30" fill="none" stroke="#b20f36" stroke-width="1.05" stroke-linejoin="round"/>
<rect x="70.05" y="333.70" width="11.50" height="18.00" fill="#fff" opacity="0.55"/>
<rect x="95.05" y="312.30" width="11.50" height="18.00" fill="#fff" opacity="0.55"/>
<line x1="69.70" y1="354.20" x2="81.80" y2="354.20" stroke="#1a1a1a" stroke-width="1.3"/>
<line x1="69.70" y1="351.60" x2="69.70" y2="356.80" stroke="#2a2a2a" stroke-width="1.4"/>
<line x1="81.80" y1="351.60" x2="81.80" y2="356.80" stroke="#2a2a2a" stroke-width="1.4"/>
<text x="75.80" y="340.80" font-size="5.4" fill="#222" text-anchor="middle" textLength="6.20" lengthAdjust="spacingAndGlyphs" stroke="#222" stroke-width="0.12">G0</text>
<text x="75.80" y="347.60" font-size="5.4" fill="#222" text-anchor="middle" textLength="9.20" lengthAdjust="spacingAndGlyphs" stroke="#222" stroke-width="0.12">47.7</text>
<line x1="81.60" y1="317.20" x2="93.00" y2="317.20" stroke="#1a1a1a" stroke-width="1.3"/>
<line x1="81.60" y1="314.60" x2="81.60" y2="319.80" stroke="#2a2a2a" stroke-width="1.4"/>
<line x1="93.00" y1="314.60" x2="93.00" y2="319.80" stroke="#2a2a2a" stroke-width="1.4"/>
<text x="86.40" y="303.80" font-size="5.4" fill="#222" text-anchor="middle" textLength="3.00" lengthAdjust="spacingAndGlyphs" stroke="#222" stroke-width="0.12">S</text>
<text x="86.40" y="310.60" font-size="5.4" fill="#222" text-anchor="middle" textLength="9.20" lengthAdjust="spacingAndGlyphs" stroke="#222" stroke-width="0.12">17.9</text>
<line x1="92.50" y1="332.80" x2="109.50" y2="332.80" stroke="#1a1a1a" stroke-width="1.3"/>
<line x1="92.50" y1="330.20" x2="92.50" y2="335.40" stroke="#2a2a2a" stroke-width="1.4"/>
<line x1="109.50" y1="330.20" x2="109.50" y2="335.40" stroke="#2a2a2a" stroke-width="1.4"/>
<text x="100.80" y="319.40" font-size="5.4" fill="#222" text-anchor="middle" textLength="4.60" lengthAdjust="spacingAndGlyphs" stroke="#222" stroke-width="0.12">M</text>
<text x="100.80" y="326.20" font-size="5.4" fill="#222" text-anchor="middle" textLength="9.20" lengthAdjust="spacingAndGlyphs" stroke="#222" stroke-width="0.12">33.2</text>
<line x1="109.50" y1="344.80" x2="162.30" y2="344.80" stroke="#1a1a1a" stroke-width="1.3"/>
<line x1="109.50" y1="342.20" x2="109.50" y2="347.40" stroke="#2a2a2a" stroke-width="1.4"/>
<line x1="162.30" y1="342.20" x2="162.30" y2="347.40" stroke="#2a2a2a" stroke-width="1.4"/>
<text x="135.90" y="331.40" font-size="5.4" fill="#222" text-anchor="middle" textLength="9.20" lengthAdjust="spacingAndGlyphs" stroke="#222" stroke-width="0.12">&gt; 4n</text>
<text x="135.90" y="338.20" font-size="5.4" fill="#222" text-anchor="middle" textLength="9.20" lengthAdjust="spacingAndGlyphs" stroke="#222" stroke-width="0.12">0.97</text>
<rect x="48.70" y="265.80" width="115.90" height="117.70" fill="none" stroke="#111" stroke-width="1.1"/>
<line x1="45.50" y1="383.50" x2="48.70" y2="383.50" stroke="#111" stroke-width="1.0"/>
<text x="42.20" y="386.30" font-size="7.8" fill="#1a1a1a" text-anchor="end" textLength="3.80" lengthAdjust="spacingAndGlyphs" stroke="#1a1a1a" stroke-width="0.26">0</text>
<line x1="45.50" y1="362.18" x2="48.70" y2="362.18" stroke="#111" stroke-width="1.0"/>
<text x="42.20" y="364.98" font-size="7.8" fill="#1a1a1a" text-anchor="end" textLength="11.80" lengthAdjust="spacingAndGlyphs" stroke="#1a1a1a" stroke-width="0.26">100</text>
<line x1="45.50" y1="340.86" x2="48.70" y2="340.86" stroke="#111" stroke-width="1.0"/>
<text x="42.20" y="343.66" font-size="7.8" fill="#1a1a1a" text-anchor="end" textLength="12.40" lengthAdjust="spacingAndGlyphs" stroke="#1a1a1a" stroke-width="0.26">200</text>
<line x1="45.50" y1="319.54" x2="48.70" y2="319.54" stroke="#111" stroke-width="1.0"/>
<text x="42.20" y="322.34" font-size="7.8" fill="#1a1a1a" text-anchor="end" textLength="12.40" lengthAdjust="spacingAndGlyphs" stroke="#1a1a1a" stroke-width="0.26">300</text>
<line x1="45.50" y1="298.22" x2="48.70" y2="298.22" stroke="#111" stroke-width="1.0"/>
<text x="42.20" y="301.02" font-size="7.8" fill="#1a1a1a" text-anchor="end" textLength="12.80" lengthAdjust="spacingAndGlyphs" stroke="#1a1a1a" stroke-width="0.26">400</text>
<line x1="45.50" y1="276.90" x2="48.70" y2="276.90" stroke="#111" stroke-width="1.0"/>
<text x="42.20" y="279.70" font-size="7.8" fill="#1a1a1a" text-anchor="end" textLength="12.40" lengthAdjust="spacingAndGlyphs" stroke="#1a1a1a" stroke-width="0.26">500</text>
<line x1="46.90" y1="378.17" x2="48.70" y2="378.17" stroke="#111" stroke-width="0.9"/>
<line x1="46.90" y1="372.84" x2="48.70" y2="372.84" stroke="#111" stroke-width="0.9"/>
<line x1="46.90" y1="367.51" x2="48.70" y2="367.51" stroke="#111" stroke-width="0.9"/>
<line x1="46.90" y1="356.85" x2="48.70" y2="356.85" stroke="#111" stroke-width="0.9"/>
<line x1="46.90" y1="351.52" x2="48.70" y2="351.52" stroke="#111" stroke-width="0.9"/>
<line x1="46.90" y1="346.19" x2="48.70" y2="346.19" stroke="#111" stroke-width="0.9"/>
<line x1="46.90" y1="335.53" x2="48.70" y2="335.53" stroke="#111" stroke-width="0.9"/>
<line x1="46.90" y1="330.20" x2="48.70" y2="330.20" stroke="#111" stroke-width="0.9"/>
<line x1="46.90" y1="324.87" x2="48.70" y2="324.87" stroke="#111" stroke-width="0.9"/>
<line x1="46.90" y1="314.21" x2="48.70" y2="314.21" stroke="#111" stroke-width="0.9"/>
<line x1="46.90" y1="308.88" x2="48.70" y2="308.88" stroke="#111" stroke-width="0.9"/>
<line x1="46.90" y1="303.55" x2="48.70" y2="303.55" stroke="#111" stroke-width="0.9"/>
<line x1="46.90" y1="292.89" x2="48.70" y2="292.89" stroke="#111" stroke-width="0.9"/>
<line x1="46.90" y1="287.56" x2="48.70" y2="287.56" stroke="#111" stroke-width="0.9"/>
<line x1="46.90" y1="282.23" x2="48.70" y2="282.23" stroke="#111" stroke-width="0.9"/>
<line x1="46.90" y1="271.57" x2="48.70" y2="271.57" stroke="#111" stroke-width="0.9"/>
<line x1="46.90" y1="266.24" x2="48.70" y2="266.24" stroke="#111" stroke-width="0.9"/>
<line x1="48.70" y1="383.50" x2="48.70" y2="386.70" stroke="#111" stroke-width="1.0"/>
<line x1="53.10" y1="383.50" x2="53.10" y2="385.30" stroke="#111" stroke-width="0.9"/>
<line x1="57.50" y1="383.50" x2="57.50" y2="385.30" stroke="#111" stroke-width="0.9"/>
<line x1="61.90" y1="383.50" x2="61.90" y2="385.30" stroke="#111" stroke-width="0.9"/>
<line x1="66.30" y1="383.50" x2="66.30" y2="385.30" stroke="#111" stroke-width="0.9"/>
<line x1="70.70" y1="383.50" x2="70.70" y2="386.70" stroke="#111" stroke-width="1.0"/>
<line x1="75.10" y1="383.50" x2="75.10" y2="385.30" stroke="#111" stroke-width="0.9"/>
<line x1="79.50" y1="383.50" x2="79.50" y2="385.30" stroke="#111" stroke-width="0.9"/>
<line x1="83.90" y1="383.50" x2="83.90" y2="385.30" stroke="#111" stroke-width="0.9"/>
<line x1="88.30" y1="383.50" x2="88.30" y2="385.30" stroke="#111" stroke-width="0.9"/>
<line x1="92.70" y1="383.50" x2="92.70" y2="386.70" stroke="#111" stroke-width="1.0"/>
<line x1="97.10" y1="383.50" x2="97.10" y2="385.30" stroke="#111" stroke-width="0.9"/>
<line x1="101.50" y1="383.50" x2="101.50" y2="385.30" stroke="#111" stroke-width="0.9"/>
<line x1="105.90" y1="383.50" x2="105.90" y2="385.30" stroke="#111" stroke-width="0.9"/>
<line x1="110.30" y1="383.50" x2="110.30" y2="385.30" stroke="#111" stroke-width="0.9"/>
<line x1="114.70" y1="383.50" x2="114.70" y2="386.70" stroke="#111" stroke-width="1.0"/>
<line x1="119.10" y1="383.50" x2="119.10" y2="385.30" stroke="#111" stroke-width="0.9"/>
<line x1="123.50" y1="383.50" x2="123.50" y2="385.30" stroke="#111" stroke-width="0.9"/>
<line x1="127.90" y1="383.50" x2="127.90" y2="385.30" stroke="#111" stroke-width="0.9"/>
<line x1="132.30" y1="383.50" x2="132.30" y2="385.30" stroke="#111" stroke-width="0.9"/>
<line x1="136.70" y1="383.50" x2="136.70" y2="386.70" stroke="#111" stroke-width="1.0"/>
<line x1="141.10" y1="383.50" x2="141.10" y2="385.30" stroke="#111" stroke-width="0.9"/>
<line x1="145.50" y1="383.50" x2="145.50" y2="385.30" stroke="#111" stroke-width="0.9"/>
<line x1="149.90" y1="383.50" x2="149.90" y2="385.30" stroke="#111" stroke-width="0.9"/>
<line x1="154.30" y1="383.50" x2="154.30" y2="385.30" stroke="#111" stroke-width="0.9"/>
<line x1="158.70" y1="383.50" x2="158.70" y2="386.70" stroke="#111" stroke-width="1.0"/>
<line x1="163.10" y1="383.50" x2="163.10" y2="385.30" stroke="#111" stroke-width="0.9"/>
<text x="48.70" y="397.60" font-size="8.0" fill="#1a1a1a" text-anchor="middle" textLength="3.80" lengthAdjust="spacingAndGlyphs" stroke="#1a1a1a" stroke-width="0.26">0</text>
<text x="70.70" y="397.60" font-size="8.0" fill="#1a1a1a" text-anchor="middle" textLength="12.40" lengthAdjust="spacingAndGlyphs" stroke="#1a1a1a" stroke-width="0.26">50K</text>
<text x="92.70" y="397.60" font-size="8.0" fill="#1a1a1a" text-anchor="middle" textLength="17.00" lengthAdjust="spacingAndGlyphs" stroke="#1a1a1a" stroke-width="0.26">100K</text>
<text x="114.70" y="397.60" font-size="8.0" fill="#1a1a1a" text-anchor="middle" textLength="17.30" lengthAdjust="spacingAndGlyphs" stroke="#1a1a1a" stroke-width="0.26">150K</text>
<text x="136.70" y="397.60" font-size="8.0" fill="#1a1a1a" text-anchor="middle" textLength="17.00" lengthAdjust="spacingAndGlyphs" stroke="#1a1a1a" stroke-width="0.26">200K</text>
<text x="158.70" y="397.60" font-size="8.0" fill="#1a1a1a" text-anchor="middle" textLength="16.80" lengthAdjust="spacingAndGlyphs" stroke="#1a1a1a" stroke-width="0.26">250K</text>
<text x="106.45" y="411.20" font-size="10.4" fill="#1a1a1a" text-anchor="middle" textLength="73.40" lengthAdjust="spacingAndGlyphs" stroke="#1a1a1a" stroke-width="0.18">Propidium Iodide</text>
<text x="0" y="0" font-size="10.4" fill="#1a1a1a" stroke="#1a1a1a" stroke-width="0.15" text-anchor="middle" textLength="37.0" lengthAdjust="spacingAndGlyphs" transform="translate(22.00,324.40) rotate(-90)"># of cells</text>
<text x="135.90" y="277.30" font-size="8.2" fill="#111" textLength="22.10" lengthAdjust="spacingAndGlyphs" stroke="#111" stroke-width="0.12">DMSO</text>
<path d="M241.00,383.50 L241.00,383.30 L242.60,382.40 L243.60,379.50 L244.40,375.90 L245.40,367.00 L246.40,356.00 L247.20,335.00 L247.90,308.00 L248.50,288.00 L249.00,280.00 L249.50,286.00 L250.00,310.00 L250.60,340.00 L251.30,355.00 L252.00,362.20 L253.00,366.20 L254.10,368.20 L255.40,368.80 L256.40,368.00 L257.20,367.60 L258.00,369.00 L259.40,371.50 L261.00,372.60 L262.80,372.40 L264.40,371.60 L265.80,370.50 L267.40,368.80 L268.80,366.00 L270.00,361.50 L271.20,354.00 L272.20,343.00 L273.00,325.00 L273.70,309.00 L274.40,302.30 L275.00,306.00 L275.60,320.00 L276.30,338.00 L276.90,355.00 L277.60,369.00 L278.40,378.00 L279.40,382.40 L281.00,383.30 L281.00,383.50 Z" fill="#cf8e80" stroke="none"/>
<path d="M241.00,383.30 L242.60,382.40 L243.60,379.50 L244.40,375.90 L245.40,367.00 L246.40,356.00 L247.20,335.00 L247.90,308.00 L248.50,288.00 L249.00,280.00 L249.50,286.00 L250.00,310.00 L250.60,340.00 L251.30,355.00 L252.00,362.20 L253.00,366.20 L254.10,368.20 L255.40,368.80 L256.40,368.00 L257.20,367.60 L258.00,369.00 L259.40,371.50 L261.00,372.60 L262.80,372.40 L264.40,371.60 L265.80,370.50 L267.40,368.80 L268.80,366.00 L270.00,361.50 L271.20,354.00 L272.20,343.00 L273.00,325.00 L273.70,309.00 L274.40,302.30 L275.00,306.00 L275.60,320.00 L276.30,338.00 L276.90,355.00 L277.60,369.00 L278.40,378.00 L279.40,382.40 L281.00,383.30" fill="none" stroke="#b20f36" stroke-width="1.05" stroke-linejoin="round"/>
<rect x="241.95" y="333.70" width="11.50" height="18.00" fill="#fff" opacity="0.55"/>
<rect x="267.65" y="312.30" width="11.50" height="18.00" fill="#fff" opacity="0.55"/>
<line x1="241.40" y1="354.20" x2="254.10" y2="354.20" stroke="#1a1a1a" stroke-width="1.3"/>
<line x1="241.40" y1="351.60" x2="241.40" y2="356.80" stroke="#2a2a2a" stroke-width="1.4"/>
<line x1="254.10" y1="351.60" x2="254.10" y2="356.80" stroke="#2a2a2a" stroke-width="1.4"/>
<text x="247.70" y="340.80" font-size="5.4" fill="#222" text-anchor="middle" textLength="6.20" lengthAdjust="spacingAndGlyphs" stroke="#222" stroke-width="0.12">G0</text>
<text x="247.70" y="347.60" font-size="5.4" fill="#222" text-anchor="middle" textLength="9.20" lengthAdjust="spacingAndGlyphs" stroke="#222" stroke-width="0.12">39.6</text>
<line x1="253.90" y1="317.20" x2="265.40" y2="317.20" stroke="#1a1a1a" stroke-width="1.3"/>
<line x1="253.90" y1="314.60" x2="253.90" y2="319.80" stroke="#2a2a2a" stroke-width="1.4"/>
<line x1="265.40" y1="314.60" x2="265.40" y2="319.80" stroke="#2a2a2a" stroke-width="1.4"/>
<text x="258.60" y="303.80" font-size="5.4" fill="#222" text-anchor="middle" textLength="3.00" lengthAdjust="spacingAndGlyphs" stroke="#222" stroke-width="0.12">S</text>
<text x="258.60" y="310.60" font-size="5.4" fill="#222" text-anchor="middle" textLength="9.20" lengthAdjust="spacingAndGlyphs" stroke="#222" stroke-width="0.12">14.1</text>
<line x1="265.20" y1="332.80" x2="282.00" y2="332.80" stroke="#1a1a1a" stroke-width="1.3"/>
<line x1="265.20" y1="330.20" x2="265.20" y2="335.40" stroke="#2a2a2a" stroke-width="1.4"/>
<line x1="282.00" y1="330.20" x2="282.00" y2="335.40" stroke="#2a2a2a" stroke-width="1.4"/>
<text x="273.40" y="319.40" font-size="5.4" fill="#222" text-anchor="middle" textLength="4.60" lengthAdjust="spacingAndGlyphs" stroke="#222" stroke-width="0.12">M</text>
<text x="273.40" y="326.20" font-size="5.4" fill="#222" text-anchor="middle" textLength="9.20" lengthAdjust="spacingAndGlyphs" stroke="#222" stroke-width="0.12">44.9</text>
<line x1="282.00" y1="344.80" x2="334.50" y2="344.80" stroke="#1a1a1a" stroke-width="1.3"/>
<line x1="282.00" y1="342.20" x2="282.00" y2="347.40" stroke="#2a2a2a" stroke-width="1.4"/>
<line x1="334.50" y1="342.20" x2="334.50" y2="347.40" stroke="#2a2a2a" stroke-width="1.4"/>
<text x="307.50" y="331.40" font-size="5.4" fill="#222" text-anchor="middle" textLength="9.20" lengthAdjust="spacingAndGlyphs" stroke="#222" stroke-width="0.12">&gt; 4n</text>
<text x="307.50" y="338.20" font-size="5.4" fill="#222" text-anchor="middle" textLength="9.20" lengthAdjust="spacingAndGlyphs" stroke="#222" stroke-width="0.12">1.09</text>
<rect x="220.60" y="265.50" width="114.60" height="118.00" fill="none" stroke="#111" stroke-width="1.1"/>
<line x1="217.40" y1="383.50" x2="220.60" y2="383.50" stroke="#111" stroke-width="1.0"/>
<text x="214.20" y="386.30" font-size="7.8" fill="#1a1a1a" text-anchor="end" textLength="3.80" lengthAdjust="spacingAndGlyphs" stroke="#1a1a1a" stroke-width="0.26">0</text>
<line x1="217.40" y1="356.40" x2="220.60" y2="356.40" stroke="#111" stroke-width="1.0"/>
<text x="214.20" y="359.20" font-size="7.8" fill="#1a1a1a" text-anchor="end" textLength="11.80" lengthAdjust="spacingAndGlyphs" stroke="#1a1a1a" stroke-width="0.26">100</text>
<line x1="217.40" y1="329.30" x2="220.60" y2="329.30" stroke="#111" stroke-width="1.0"/>
<text x="214.20" y="332.10" font-size="7.8" fill="#1a1a1a" text-anchor="end" textLength="12.40" lengthAdjust="spacingAndGlyphs" stroke="#1a1a1a" stroke-width="0.26">200</text>
<line x1="217.40" y1="302.20" x2="220.60" y2="302.20" stroke="#111" stroke-width="1.0"/>
<text x="214.20" y="305.00" font-size="7.8" fill="#1a1a1a" text-anchor="end" textLength="12.40" lengthAdjust="spacingAndGlyphs" stroke="#1a1a1a" stroke-width="0.26">300</text>
<line x1="217.40" y1="275.10" x2="220.60" y2="275.10" stroke="#111" stroke-width="1.0"/>
<text x="214.20" y="277.90" font-size="7.8" fill="#1a1a1a" text-anchor="end" textLength="12.80" lengthAdjust="spacingAndGlyphs" stroke="#1a1a1a" stroke-width="0.26">400</text>
<line x1="218.80" y1="376.73" x2="220.60" y2="376.73" stroke="#111" stroke-width="0.9"/>
<line x1="218.80" y1="369.95" x2="220.60" y2="369.95" stroke="#111" stroke-width="0.9"/>
<line x1="218.80" y1="363.18" x2="220.60" y2="363.18" stroke="#111" stroke-width="0.9"/>
<line x1="218.80" y1="349.62" x2="220.60" y2="349.62" stroke="#111" stroke-width="0.9"/>
<line x1="218.80" y1="342.85" x2="220.60" y2="342.85" stroke="#111" stroke-width="0.9"/>
<line x1="218.80" y1="336.07" x2="220.60" y2="336.07" stroke="#111" stroke-width="0.9"/>
<line x1="218.80" y1="322.52" x2="220.60" y2="322.52" stroke="#111" stroke-width="0.9"/>
<line x1="218.80" y1="315.75" x2="220.60" y2="315.75" stroke="#111" stroke-width="0.9"/>
<line x1="218.80" y1="308.98" x2="220.60" y2="308.98" stroke="#111" stroke-width="0.9"/>
<line x1="218.80" y1="295.43" x2="220.60" y2="295.43" stroke="#111" stroke-width="0.9"/>
<line x1="218.80" y1="288.65" x2="220.60" y2="288.65" stroke="#111" stroke-width="0.9"/>
<line x1="218.80" y1="281.88" x2="220.60" y2="281.88" stroke="#111" stroke-width="0.9"/>
<line x1="218.80" y1="268.32" x2="220.60" y2="268.32" stroke="#111" stroke-width="0.9"/>
<line x1="220.60" y1="383.50" x2="220.60" y2="386.70" stroke="#111" stroke-width="1.0"/>
<line x1="224.93" y1="383.50" x2="224.93" y2="385.30" stroke="#111" stroke-width="0.9"/>
<line x1="229.26" y1="383.50" x2="229.26" y2="385.30" stroke="#111" stroke-width="0.9"/>
<line x1="233.59" y1="383.50" x2="233.59" y2="385.30" stroke="#111" stroke-width="0.9"/>
<line x1="237.92" y1="383.50" x2="237.92" y2="385.30" stroke="#111" stroke-width="0.9"/>
<line x1="242.25" y1="383.50" x2="242.25" y2="386.70" stroke="#111" stroke-width="1.0"/>
<line x1="246.58" y1="383.50" x2="246.58" y2="385.30" stroke="#111" stroke-width="0.9"/>
<line x1="250.91" y1="383.50" x2="250.91" y2="385.30" stroke="#111" stroke-width="0.9"/>
<line x1="255.24" y1="383.50" x2="255.24" y2="385.30" stroke="#111" stroke-width="0.9"/>
<line x1="259.57" y1="383.50" x2="259.57" y2="385.30" stroke="#111" stroke-width="0.9"/>
<line x1="263.90" y1="383.50" x2="263.90" y2="386.70" stroke="#111" stroke-width="1.0"/>
<line x1="268.23" y1="383.50" x2="268.23" y2="385.30" stroke="#111" stroke-width="0.9"/>
<line x1="272.56" y1="383.50" x2="272.56" y2="385.30" stroke="#111" stroke-width="0.9"/>
<line x1="276.89" y1="383.50" x2="276.89" y2="385.30" stroke="#111" stroke-width="0.9"/>
<line x1="281.22" y1="383.50" x2="281.22" y2="385.30" stroke="#111" stroke-width="0.9"/>
<line x1="285.55" y1="383.50" x2="285.55" y2="386.70" stroke="#111" stroke-width="1.0"/>
<line x1="289.88" y1="383.50" x2="289.88" y2="385.30" stroke="#111" stroke-width="0.9"/>
<line x1="294.21" y1="383.50" x2="294.21" y2="385.30" stroke="#111" stroke-width="0.9"/>
<line x1="298.54" y1="383.50" x2="298.54" y2="385.30" stroke="#111" stroke-width="0.9"/>
<line x1="302.87" y1="383.50" x2="302.87" y2="385.30" stroke="#111" stroke-width="0.9"/>
<line x1="307.20" y1="383.50" x2="307.20" y2="386.70" stroke="#111" stroke-width="1.0"/>
<line x1="311.53" y1="383.50" x2="311.53" y2="385.30" stroke="#111" stroke-width="0.9"/>
<line x1="315.86" y1="383.50" x2="315.86" y2="385.30" stroke="#111" stroke-width="0.9"/>
<line x1="320.19" y1="383.50" x2="320.19" y2="385.30" stroke="#111" stroke-width="0.9"/>
<line x1="324.52" y1="383.50" x2="324.52" y2="385.30" stroke="#111" stroke-width="0.9"/>
<line x1="328.85" y1="383.50" x2="328.85" y2="386.70" stroke="#111" stroke-width="1.0"/>
<line x1="333.18" y1="383.50" x2="333.18" y2="385.30" stroke="#111" stroke-width="0.9"/>
<text x="220.60" y="397.60" font-size="8.0" fill="#1a1a1a" text-anchor="middle" textLength="3.80" lengthAdjust="spacingAndGlyphs" stroke="#1a1a1a" stroke-width="0.26">0</text>
<text x="242.25" y="397.60" font-size="8.0" fill="#1a1a1a" text-anchor="middle" textLength="12.40" lengthAdjust="spacingAndGlyphs" stroke="#1a1a1a" stroke-width="0.26">50K</text>
<text x="263.90" y="397.60" font-size="8.0" fill="#1a1a1a" text-anchor="middle" textLength="17.00" lengthAdjust="spacingAndGlyphs" stroke="#1a1a1a" stroke-width="0.26">100K</text>
<text x="285.55" y="397.60" font-size="8.0" fill="#1a1a1a" text-anchor="middle" textLength="17.30" lengthAdjust="spacingAndGlyphs" stroke="#1a1a1a" stroke-width="0.26">150K</text>
<text x="307.20" y="397.60" font-size="8.0" fill="#1a1a1a" text-anchor="middle" textLength="17.00" lengthAdjust="spacingAndGlyphs" stroke="#1a1a1a" stroke-width="0.26">200K</text>
<text x="328.85" y="397.60" font-size="8.0" fill="#1a1a1a" text-anchor="middle" textLength="16.80" lengthAdjust="spacingAndGlyphs" stroke="#1a1a1a" stroke-width="0.26">250K</text>
<text x="277.70" y="411.20" font-size="10.4" fill="#1a1a1a" text-anchor="middle" textLength="73.40" lengthAdjust="spacingAndGlyphs" stroke="#1a1a1a" stroke-width="0.18">Propidium Iodide</text>
<text x="0" y="0" font-size="10.4" fill="#1a1a1a" stroke="#1a1a1a" stroke-width="0.15" text-anchor="middle" textLength="37.0" lengthAdjust="spacingAndGlyphs" transform="translate(194.20,324.40) rotate(-90)"># of cells</text>
<text x="308.30" y="277.30" font-size="8.2" fill="#111" textLength="21.60" lengthAdjust="spacingAndGlyphs" stroke="#111" stroke-width="0.12">30 nM</text>
<path d="M400.00,383.50 L400.00,383.30 L402.00,382.20 L404.50,380.80 L406.50,381.50 L408.10,382.30 L410.00,380.80 L411.80,378.90 L413.80,377.00 L415.50,375.00 L416.40,370.00 L417.00,362.00 L417.60,352.00 L418.30,337.00 L419.00,324.00 L419.60,317.00 L420.10,315.20 L420.60,318.00 L421.30,328.00 L422.00,340.00 L422.90,350.00 L423.60,354.50 L424.50,357.80 L425.40,355.50 L426.50,351.40 L427.30,352.60 L428.00,353.40 L428.80,351.50 L429.60,349.90 L430.40,350.60 L431.10,351.20 L431.80,349.80 L432.60,348.90 L433.40,350.20 L434.20,351.60 L435.00,350.80 L436.20,347.50 L437.00,344.00 L438.00,337.00 L438.80,331.00 L439.50,325.00 L440.40,310.00 L441.30,297.00 L442.10,284.00 L442.80,279.20 L443.50,283.00 L444.30,294.00 L445.00,310.00 L445.70,327.00 L446.40,348.00 L447.10,364.00 L447.90,374.50 L448.80,379.50 L449.80,381.40 L451.50,381.90 L453.50,382.30 L456.00,382.00 L459.00,381.40 L461.50,382.10 L464.00,382.40 L467.00,382.30 L470.00,382.10 L473.00,381.60 L475.50,381.90 L478.00,382.40 L482.00,382.50 L486.00,382.60 L490.70,382.80 L490.70,383.50 Z" fill="#cf8e80" stroke="none"/>
<path d="M400.00,383.30 L402.00,382.20 L404.50,380.80 L406.50,381.50 L408.10,382.30 L410.00,380.80 L411.80,378.90 L413.80,377.00 L415.50,375.00 L416.40,370.00 L417.00,362.00 L417.60,352.00 L418.30,337.00 L419.00,324.00 L419.60,317.00 L420.10,315.20 L420.60,318.00 L421.30,328.00 L422.00,340.00 L422.90,350.00 L423.60,354.50 L424.50,357.80 L425.40,355.50 L426.50,351.40 L427.30,352.60 L428.00,353.40 L428.80,351.50 L429.60,349.90 L430.40,350.60 L431.10,351.20 L431.80,349.80 L432.60,348.90 L433.40,350.20 L434.20,351.60 L435.00,350.80 L436.20,347.50 L437.00,344.00 L438.00,337.00 L438.80,331.00 L439.50,325.00 L440.40,310.00 L441.30,297.00 L442.10,284.00 L442.80,279.20 L443.50,283.00 L444.30,294.00 L445.00,310.00 L445.70,327.00 L446.40,348.00 L447.10,364.00 L447.90,374.50 L448.80,379.50 L449.80,381.40 L451.50,381.90 L453.50,382.30 L456.00,382.00 L459.00,381.40 L461.50,382.10 L464.00,382.40 L467.00,382.30 L470.00,382.10 L473.00,381.60 L475.50,381.90 L478.00,382.40 L482.00,382.50 L486.00,382.60 L490.70,382.80" fill="none" stroke="#b20f36" stroke-width="1.05" stroke-linejoin="round"/>
<rect x="414.05" y="333.70" width="11.50" height="18.00" fill="#fff" opacity="0.55"/>
<rect x="439.25" y="312.30" width="11.50" height="18.00" fill="#fff" opacity="0.55"/>
<line x1="413.70" y1="354.20" x2="426.00" y2="354.20" stroke="#1a1a1a" stroke-width="1.3"/>
<line x1="413.70" y1="351.60" x2="413.70" y2="356.80" stroke="#2a2a2a" stroke-width="1.4"/>
<line x1="426.00" y1="351.60" x2="426.00" y2="356.80" stroke="#2a2a2a" stroke-width="1.4"/>
<text x="419.80" y="340.80" font-size="5.4" fill="#222" text-anchor="middle" textLength="6.20" lengthAdjust="spacingAndGlyphs" stroke="#222" stroke-width="0.12">G0</text>
<text x="419.80" y="347.60" font-size="5.4" fill="#222" text-anchor="middle" textLength="9.20" lengthAdjust="spacingAndGlyphs" stroke="#222" stroke-width="0.12">25.7</text>
<line x1="425.70" y1="317.20" x2="437.10" y2="317.20" stroke="#1a1a1a" stroke-width="1.3"/>
<line x1="425.70" y1="314.60" x2="425.70" y2="319.80" stroke="#2a2a2a" stroke-width="1.4"/>
<line x1="437.10" y1="314.60" x2="437.10" y2="319.80" stroke="#2a2a2a" stroke-width="1.4"/>
<text x="430.60" y="303.80" font-size="5.4" fill="#222" text-anchor="middle" textLength="3.00" lengthAdjust="spacingAndGlyphs" stroke="#222" stroke-width="0.12">S</text>
<text x="430.60" y="310.60" font-size="5.4" fill="#222" text-anchor="middle" textLength="9.20" lengthAdjust="spacingAndGlyphs" stroke="#222" stroke-width="0.12">23.5</text>
<line x1="437.10" y1="332.80" x2="453.50" y2="332.80" stroke="#1a1a1a" stroke-width="1.3"/>
<line x1="437.10" y1="330.20" x2="437.10" y2="335.40" stroke="#2a2a2a" stroke-width="1.4"/>
<line x1="453.50" y1="330.20" x2="453.50" y2="335.40" stroke="#2a2a2a" stroke-width="1.4"/>
<text x="445.00" y="319.40" font-size="5.4" fill="#222" text-anchor="middle" textLength="4.60" lengthAdjust="spacingAndGlyphs" stroke="#222" stroke-width="0.12">M</text>
<text x="445.00" y="326.20" font-size="5.4" fill="#222" text-anchor="middle" textLength="9.20" lengthAdjust="spacingAndGlyphs" stroke="#222" stroke-width="0.12">45.8</text>
<line x1="453.50" y1="344.80" x2="507.00" y2="344.80" stroke="#1a1a1a" stroke-width="1.3"/>
<line x1="453.50" y1="342.20" x2="453.50" y2="347.40" stroke="#2a2a2a" stroke-width="1.4"/>
<line x1="507.00" y1="342.20" x2="507.00" y2="347.40" stroke="#2a2a2a" stroke-width="1.4"/>
<text x="480.10" y="331.40" font-size="5.4" fill="#222" text-anchor="middle" textLength="9.20" lengthAdjust="spacingAndGlyphs" stroke="#222" stroke-width="0.12">&gt; 4n</text>
<text x="480.10" y="338.20" font-size="5.4" fill="#222" text-anchor="middle" textLength="9.20" lengthAdjust="spacingAndGlyphs" stroke="#222" stroke-width="0.12">2.80</text>
<rect x="392.60" y="265.50" width="116.00" height="118.00" fill="none" stroke="#111" stroke-width="1.1"/>
<line x1="389.40" y1="383.50" x2="392.60" y2="383.50" stroke="#111" stroke-width="1.0"/>
<text x="385.60" y="386.30" font-size="7.8" fill="#1a1a1a" text-anchor="end" textLength="3.80" lengthAdjust="spacingAndGlyphs" stroke="#1a1a1a" stroke-width="0.26">0</text>
<line x1="389.40" y1="356.30" x2="392.60" y2="356.30" stroke="#111" stroke-width="1.0"/>
<text x="385.60" y="359.10" font-size="7.8" fill="#1a1a1a" text-anchor="end" textLength="7.60" lengthAdjust="spacingAndGlyphs" stroke="#1a1a1a" stroke-width="0.26">30</text>
<line x1="389.40" y1="329.10" x2="392.60" y2="329.10" stroke="#111" stroke-width="1.0"/>
<text x="385.60" y="331.90" font-size="7.8" fill="#1a1a1a" text-anchor="end" textLength="7.60" lengthAdjust="spacingAndGlyphs" stroke="#1a1a1a" stroke-width="0.26">60</text>
<line x1="389.40" y1="301.90" x2="392.60" y2="301.90" stroke="#111" stroke-width="1.0"/>
<text x="385.60" y="304.70" font-size="7.8" fill="#1a1a1a" text-anchor="end" textLength="7.80" lengthAdjust="spacingAndGlyphs" stroke="#1a1a1a" stroke-width="0.26">90</text>
<line x1="389.40" y1="274.70" x2="392.60" y2="274.70" stroke="#111" stroke-width="1.0"/>
<text x="385.60" y="277.50" font-size="7.8" fill="#1a1a1a" text-anchor="end" textLength="11.80" lengthAdjust="spacingAndGlyphs" stroke="#1a1a1a" stroke-width="0.26">120</text>
<line x1="390.80" y1="374.43" x2="392.60" y2="374.43" stroke="#111" stroke-width="0.9"/>
<line x1="390.80" y1="365.37" x2="392.60" y2="365.37" stroke="#111" stroke-width="0.9"/>
<line x1="390.80" y1="347.23" x2="392.60" y2="347.23" stroke="#111" stroke-width="0.9"/>
<line x1="390.80" y1="338.17" x2="392.60" y2="338.17" stroke="#111" stroke-width="0.9"/>
<line x1="390.80" y1="320.03" x2="392.60" y2="320.03" stroke="#111" stroke-width="0.9"/>
<line x1="390.80" y1="310.97" x2="392.60" y2="310.97" stroke="#111" stroke-width="0.9"/>
<line x1="390.80" y1="292.83" x2="392.60" y2="292.83" stroke="#111" stroke-width="0.9"/>
<line x1="390.80" y1="283.77" x2="392.60" y2="283.77" stroke="#111" stroke-width="0.9"/>
<line x1="390.80" y1="265.63" x2="392.60" y2="265.63" stroke="#111" stroke-width="0.9"/>
<line x1="392.60" y1="383.50" x2="392.60" y2="386.70" stroke="#111" stroke-width="1.0"/>
<line x1="396.99" y1="383.50" x2="396.99" y2="385.30" stroke="#111" stroke-width="0.9"/>
<line x1="401.38" y1="383.50" x2="401.38" y2="385.30" stroke="#111" stroke-width="0.9"/>
<line x1="405.77" y1="383.50" x2="405.77" y2="385.30" stroke="#111" stroke-width="0.9"/>
<line x1="410.16" y1="383.50" x2="410.16" y2="385.30" stroke="#111" stroke-width="0.9"/>
<line x1="414.55" y1="383.50" x2="414.55" y2="386.70" stroke="#111" stroke-width="1.0"/>
<line x1="418.94" y1="383.50" x2="418.94" y2="385.30" stroke="#111" stroke-width="0.9"/>
<line x1="423.33" y1="383.50" x2="423.33" y2="385.30" stroke="#111" stroke-width="0.9"/>
<line x1="427.72" y1="383.50" x2="427.72" y2="385.30" stroke="#111" stroke-width="0.9"/>
<line x1="432.11" y1="383.50" x2="432.11" y2="385.30" stroke="#111" stroke-width="0.9"/>
<line x1="436.50" y1="383.50" x2="436.50" y2="386.70" stroke="#111" stroke-width="1.0"/>
<line x1="440.89" y1="383.50" x2="440.89" y2="385.30" stroke="#111" stroke-width="0.9"/>
<line x1="445.28" y1="383.50" x2="445.28" y2="385.30" stroke="#111" stroke-width="0.9"/>
<line x1="449.67" y1="383.50" x2="449.67" y2="385.30" stroke="#111" stroke-width="0.9"/>
<line x1="454.06" y1="383.50" x2="454.06" y2="385.30" stroke="#111" stroke-width="0.9"/>
<line x1="458.45" y1="383.50" x2="458.45" y2="386.70" stroke="#111" stroke-width="1.0"/>
<line x1="462.84" y1="383.50" x2="462.84" y2="385.30" stroke="#111" stroke-width="0.9"/>
<line x1="467.23" y1="383.50" x2="467.23" y2="385.30" stroke="#111" stroke-width="0.9"/>
<line x1="471.62" y1="383.50" x2="471.62" y2="385.30" stroke="#111" stroke-width="0.9"/>
<line x1="476.01" y1="383.50" x2="476.01" y2="385.30" stroke="#111" stroke-width="0.9"/>
<line x1="480.40" y1="383.50" x2="480.40" y2="386.70" stroke="#111" stroke-width="1.0"/>
<line x1="484.79" y1="383.50" x2="484.79" y2="385.30" stroke="#111" stroke-width="0.9"/>
<line x1="489.18" y1="383.50" x2="489.18" y2="385.30" stroke="#111" stroke-width="0.9"/>
<line x1="493.57" y1="383.50" x2="493.57" y2="385.30" stroke="#111" stroke-width="0.9"/>
<line x1="497.96" y1="383.50" x2="497.96" y2="385.30" stroke="#111" stroke-width="0.9"/>
<line x1="502.35" y1="383.50" x2="502.35" y2="386.70" stroke="#111" stroke-width="1.0"/>
<line x1="506.74" y1="383.50" x2="506.74" y2="385.30" stroke="#111" stroke-width="0.9"/>
<text x="392.60" y="397.60" font-size="8.0" fill="#1a1a1a" text-anchor="middle" textLength="3.80" lengthAdjust="spacingAndGlyphs" stroke="#1a1a1a" stroke-width="0.26">0</text>
<text x="414.55" y="397.60" font-size="8.0" fill="#1a1a1a" text-anchor="middle" textLength="12.40" lengthAdjust="spacingAndGlyphs" stroke="#1a1a1a" stroke-width="0.26">50K</text>
<text x="436.50" y="397.60" font-size="8.0" fill="#1a1a1a" text-anchor="middle" textLength="17.00" lengthAdjust="spacingAndGlyphs" stroke="#1a1a1a" stroke-width="0.26">100K</text>
<text x="458.45" y="397.60" font-size="8.0" fill="#1a1a1a" text-anchor="middle" textLength="17.30" lengthAdjust="spacingAndGlyphs" stroke="#1a1a1a" stroke-width="0.26">150K</text>
<text x="480.40" y="397.60" font-size="8.0" fill="#1a1a1a" text-anchor="middle" textLength="17.00" lengthAdjust="spacingAndGlyphs" stroke="#1a1a1a" stroke-width="0.26">200K</text>
<text x="502.35" y="397.60" font-size="8.0" fill="#1a1a1a" text-anchor="middle" textLength="16.80" lengthAdjust="spacingAndGlyphs" stroke="#1a1a1a" stroke-width="0.26">250K</text>
<text x="450.40" y="411.20" font-size="10.4" fill="#1a1a1a" text-anchor="middle" textLength="73.40" lengthAdjust="spacingAndGlyphs" stroke="#1a1a1a" stroke-width="0.18">Propidium Iodide</text>
<text x="0" y="0" font-size="10.4" fill="#1a1a1a" stroke="#1a1a1a" stroke-width="0.15" text-anchor="middle" textLength="37.0" lengthAdjust="spacingAndGlyphs" transform="translate(367.00,324.40) rotate(-90)"># of cells</text>
<text x="475.30" y="277.30" font-size="8.2" fill="#111" textLength="25.70" lengthAdjust="spacingAndGlyphs" stroke="#111" stroke-width="0.12">100 nM</text>
<text x="7.50" y="440.40" font-size="12.4" fill="#111" textLength="7.80" lengthAdjust="spacingAndGlyphs" stroke="#111" stroke-width="0.14">D</text>
<rect x="45.60" y="452.00" width="19.00" height="2.40" fill="#b4002c"/>
<rect x="45.60" y="454.40" width="19.00" height="45.80" fill="#2c4a82"/>
<rect x="45.60" y="500.20" width="19.00" height="29.40" fill="#67ad46"/>
<rect x="45.60" y="529.60" width="19.00" height="71.90" fill="#4d2168"/>
<line x1="50.80" y1="452.50" x2="59.40" y2="452.50" stroke="#111" stroke-width="1.0"/>
<line x1="55.10" y1="454.40" x2="55.10" y2="457.50" stroke="#111" stroke-width="1.0"/>
<line x1="50.80" y1="457.50" x2="59.40" y2="457.50" stroke="#111" stroke-width="1.0"/>
<line x1="55.10" y1="500.20" x2="55.10" y2="502.00" stroke="#111" stroke-width="1.0"/>
<line x1="50.80" y1="502.00" x2="59.40" y2="502.00" stroke="#111" stroke-width="1.0"/>
<line x1="55.10" y1="529.60" x2="55.10" y2="530.20" stroke="#111" stroke-width="1.0"/>
<line x1="50.80" y1="530.20" x2="59.40" y2="530.20" stroke="#111" stroke-width="1.0"/>
<rect x="73.00" y="452.00" width="18.80" height="2.30" fill="#b4002c"/>
<rect x="73.00" y="454.30" width="18.80" height="61.50" fill="#2c4a82"/>
<rect x="73.00" y="515.80" width="18.80" height="21.00" fill="#67ad46"/>
<rect x="73.00" y="536.80" width="18.80" height="64.70" fill="#4d2168"/>
<line x1="78.10" y1="452.50" x2="86.70" y2="452.50" stroke="#111" stroke-width="1.0"/>
<line x1="82.40" y1="454.30" x2="82.40" y2="459.60" stroke="#111" stroke-width="1.0"/>
<line x1="78.10" y1="459.60" x2="86.70" y2="459.60" stroke="#111" stroke-width="1.0"/>
<line x1="82.40" y1="515.80" x2="82.40" y2="516.80" stroke="#111" stroke-width="1.0"/>
<line x1="78.10" y1="516.80" x2="86.70" y2="516.80" stroke="#111" stroke-width="1.0"/>
<line x1="82.40" y1="536.80" x2="82.40" y2="542.20" stroke="#111" stroke-width="1.0"/>
<line x1="78.10" y1="542.20" x2="86.70" y2="542.20" stroke="#111" stroke-width="1.0"/>
<rect x="100.40" y="452.00" width="18.40" height="3.80" fill="#b4002c"/>
<rect x="100.40" y="455.80" width="18.40" height="76.20" fill="#2c4a82"/>
<rect x="100.40" y="532.00" width="18.40" height="30.50" fill="#67ad46"/>
<rect x="100.40" y="562.50" width="18.40" height="36.50" fill="#4d2168"/>
<rect x="100.40" y="599.00" width="18.40" height="2.50" fill="#e6951c"/>
<line x1="105.30" y1="452.50" x2="113.90" y2="452.50" stroke="#111" stroke-width="1.0"/>
<line x1="109.60" y1="455.80" x2="109.60" y2="456.60" stroke="#111" stroke-width="1.0"/>
<line x1="105.30" y1="456.60" x2="113.90" y2="456.60" stroke="#111" stroke-width="1.0"/>
<line x1="109.60" y1="532.00" x2="109.60" y2="535.20" stroke="#111" stroke-width="1.0"/>
<line x1="105.30" y1="535.20" x2="113.90" y2="535.20" stroke="#111" stroke-width="1.0"/>
<line x1="109.60" y1="562.50" x2="109.60" y2="565.80" stroke="#111" stroke-width="1.0"/>
<line x1="105.30" y1="565.80" x2="113.90" y2="565.80" stroke="#111" stroke-width="1.0"/>
<line x1="109.60" y1="599.00" x2="109.60" y2="600.40" stroke="#111" stroke-width="1.0"/>
<line x1="105.30" y1="600.40" x2="113.90" y2="600.40" stroke="#111" stroke-width="1.0"/>
<rect x="127.40" y="452.00" width="18.60" height="6.60" fill="#b4002c"/>
<rect x="127.40" y="458.60" width="18.60" height="67.00" fill="#2c4a82"/>
<rect x="127.40" y="525.60" width="18.60" height="35.00" fill="#67ad46"/>
<rect x="127.40" y="560.60" width="18.60" height="35.80" fill="#4d2168"/>
<rect x="127.40" y="596.40" width="18.60" height="5.10" fill="#e6951c"/>
<line x1="132.40" y1="452.50" x2="141.00" y2="452.50" stroke="#111" stroke-width="1.0"/>
<line x1="136.70" y1="458.60" x2="136.70" y2="460.40" stroke="#111" stroke-width="1.0"/>
<line x1="132.40" y1="460.40" x2="141.00" y2="460.40" stroke="#111" stroke-width="1.0"/>
<line x1="136.70" y1="525.60" x2="136.70" y2="527.80" stroke="#111" stroke-width="1.0"/>
<line x1="132.40" y1="527.80" x2="141.00" y2="527.80" stroke="#111" stroke-width="1.0"/>
<line x1="136.70" y1="560.60" x2="136.70" y2="563.20" stroke="#111" stroke-width="1.0"/>
<line x1="132.40" y1="563.20" x2="141.00" y2="563.20" stroke="#111" stroke-width="1.0"/>
<line x1="136.70" y1="596.40" x2="136.70" y2="599.40" stroke="#111" stroke-width="1.0"/>
<line x1="132.40" y1="599.40" x2="141.00" y2="599.40" stroke="#111" stroke-width="1.0"/>
<line x1="41.30" y1="448.60" x2="41.30" y2="602.10" stroke="#111" stroke-width="1.3"/>
<line x1="40.60" y1="601.50" x2="149.50" y2="601.50" stroke="#111" stroke-width="1.3"/>
<line x1="38.00" y1="601.50" x2="41.00" y2="601.50" stroke="#111" stroke-width="1.0"/>
<text x="34.80" y="604.20" font-size="7.8" fill="#1a1a1a" text-anchor="end" textLength="3.80" lengthAdjust="spacingAndGlyphs" stroke="#1a1a1a" stroke-width="0.26">0</text>
<line x1="38.00" y1="571.50" x2="41.00" y2="571.50" stroke="#111" stroke-width="1.0"/>
<text x="34.80" y="574.20" font-size="7.8" fill="#1a1a1a" text-anchor="end" textLength="8.60" lengthAdjust="spacingAndGlyphs" stroke="#1a1a1a" stroke-width="0.26">20</text>
<line x1="38.00" y1="541.50" x2="41.00" y2="541.50" stroke="#111" stroke-width="1.0"/>
<text x="34.80" y="544.20" font-size="7.8" fill="#1a1a1a" text-anchor="end" textLength="8.60" lengthAdjust="spacingAndGlyphs" stroke="#1a1a1a" stroke-width="0.26">40</text>
<line x1="38.00" y1="511.50" x2="41.00" y2="511.50" stroke="#111" stroke-width="1.0"/>
<text x="34.80" y="514.20" font-size="7.8" fill="#1a1a1a" text-anchor="end" textLength="8.60" lengthAdjust="spacingAndGlyphs" stroke="#1a1a1a" stroke-width="0.26">60</text>
<line x1="38.00" y1="481.50" x2="41.00" y2="481.50" stroke="#111" stroke-width="1.0"/>
<text x="34.80" y="484.20" font-size="7.8" fill="#1a1a1a" text-anchor="end" textLength="8.60" lengthAdjust="spacingAndGlyphs" stroke="#1a1a1a" stroke-width="0.26">80</text>
<line x1="38.00" y1="451.50" x2="41.00" y2="451.50" stroke="#111" stroke-width="1.0"/>
<text x="34.80" y="454.20" font-size="7.8" fill="#1a1a1a" text-anchor="end" textLength="12.20" lengthAdjust="spacingAndGlyphs" stroke="#1a1a1a" stroke-width="0.26">100</text>
<line x1="55.10" y1="601.50" x2="55.10" y2="604.30" stroke="#111" stroke-width="1.0"/>
<line x1="82.40" y1="601.50" x2="82.40" y2="604.30" stroke="#111" stroke-width="1.0"/>
<line x1="109.60" y1="601.50" x2="109.60" y2="604.30" stroke="#111" stroke-width="1.0"/>
<line x1="136.70" y1="601.50" x2="136.70" y2="604.30" stroke="#111" stroke-width="1.0"/>
<text x="55.10" y="615.80" font-size="8.0" fill="#1a1a1a" text-anchor="middle" textLength="3.90" lengthAdjust="spacingAndGlyphs" stroke="#1a1a1a" stroke-width="0.26">0</text>
<text x="82.40" y="615.80" font-size="8.0" fill="#1a1a1a" text-anchor="middle" textLength="8.20" lengthAdjust="spacingAndGlyphs" stroke="#1a1a1a" stroke-width="0.26">30</text>
<text x="109.60" y="615.80" font-size="8.0" fill="#1a1a1a" text-anchor="middle" textLength="12.20" lengthAdjust="spacingAndGlyphs" stroke="#1a1a1a" stroke-width="0.26">100</text>
<text x="136.70" y="615.80" font-size="8.0" fill="#1a1a1a" text-anchor="middle" textLength="16.00" lengthAdjust="spacingAndGlyphs" stroke="#1a1a1a" stroke-width="0.26">1000</text>
<text x="67.30" y="629.00" font-size="9.8" fill="#1a1a1a" textLength="55.80" lengthAdjust="spacingAndGlyphs" stroke="#1a1a1a" stroke-width="0.14">TAK-243 (nM)</text>
<text x="0" y="0" font-size="10.3" fill="#1a1a1a" stroke="#1a1a1a" stroke-width="0.14" text-anchor="middle" textLength="84.5" lengthAdjust="spacingAndGlyphs" transform="translate(14.5,525.4) rotate(-90)">Cell cycle profile (%)</text>
<rect x="154.80" y="452.20" width="9.30" height="4.50" fill="#b4002c"/>
<text x="166.60" y="456.80" font-size="6.8" fill="#1a1a1a" textLength="14.40" lengthAdjust="spacingAndGlyphs" stroke="#1a1a1a" stroke-width="0.22">&gt; 4n</text>
<rect x="154.80" y="461.10" width="9.30" height="4.50" fill="#2c4a82"/>
<text x="166.60" y="465.70" font-size="6.8" fill="#1a1a1a" textLength="18.50" lengthAdjust="spacingAndGlyphs" stroke="#1a1a1a" stroke-width="0.22">G2/M</text>
<rect x="154.80" y="469.30" width="9.30" height="4.50" fill="#67ad46"/>
<text x="166.60" y="473.90" font-size="6.8" fill="#1a1a1a" textLength="4.20" lengthAdjust="spacingAndGlyphs" stroke="#1a1a1a" stroke-width="0.22">S</text>
<rect x="154.80" y="478.20" width="9.30" height="4.50" fill="#4d2168"/>
<text x="166.60" y="482.80" font-size="6.8" fill="#1a1a1a" textLength="7.40" lengthAdjust="spacingAndGlyphs" stroke="#1a1a1a" stroke-width="0.22">G1</text>
<rect x="154.80" y="486.60" width="9.30" height="4.50" fill="#e6951c"/>
<text x="166.60" y="491.20" font-size="6.8" fill="#1a1a1a" textLength="14.40" lengthAdjust="spacingAndGlyphs" stroke="#1a1a1a" stroke-width="0.22">&lt; 2n</text>
<rect x="1.5" y="1.5" width="517" height="636" fill="none" stroke="#8c8c8c" stroke-width="1"/>
<rect x="0.5" y="0.5" width="519" height="638" fill="none" stroke="#1e1e1e" stroke-width="1"/>
</svg>
</body></html>
